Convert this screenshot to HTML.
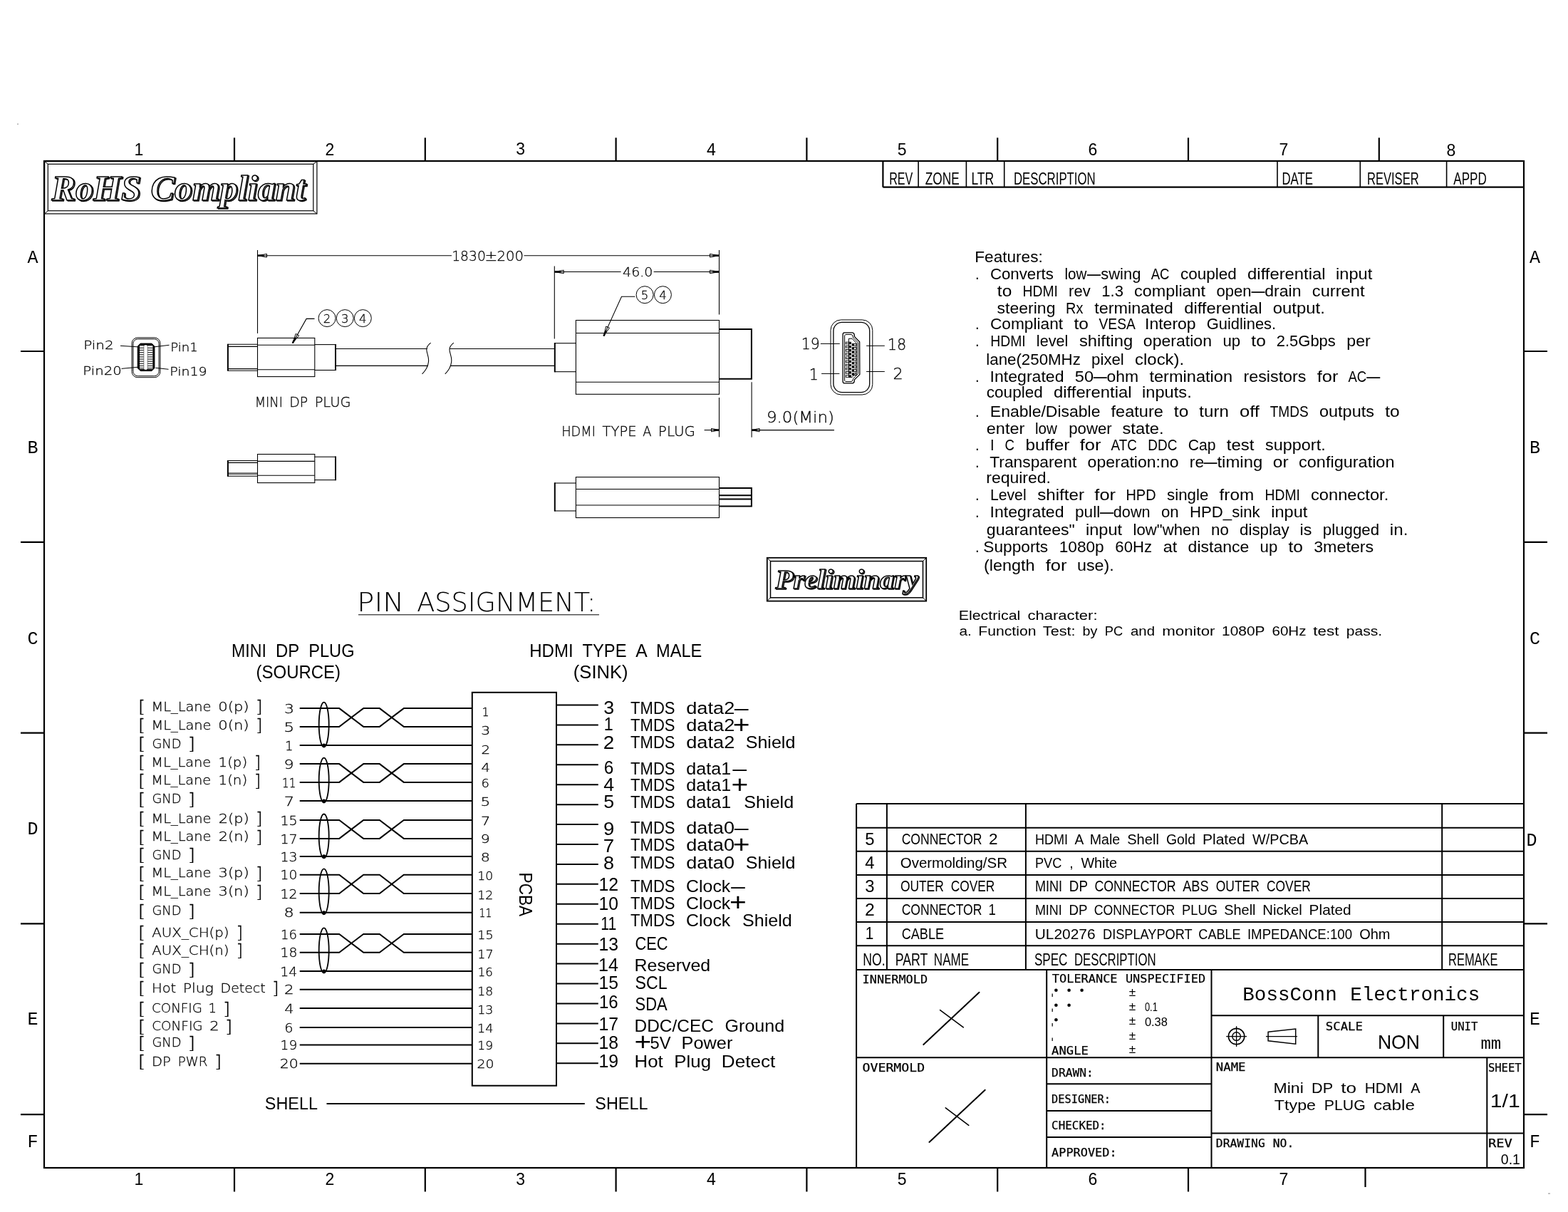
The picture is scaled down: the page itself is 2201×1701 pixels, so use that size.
<!DOCTYPE html>
<html lang="en">
<head>
<meta charset="utf-8">
<title>Mini DP to HDMI A Type PLUG cable drawing</title>
<style>
html,body{margin:0;padding:0;background:#fff;}
body{width:2201px;height:1701px;overflow:hidden;}
svg{display:block;filter:grayscale(1);}
text{white-space:pre;}
</style>
</head>
<body>
<svg width="2201" height="1701" viewBox="0 0 2201 1701">
<rect x="0" y="0" width="2201" height="1701" fill="#fff"/>
<rect x="62.00" y="226.00" width="2077.00" height="1413.00" rx="0" fill="none" stroke="#000" stroke-width="2.2"/>
<line x1="329.00" y1="193.30" x2="329.00" y2="226.00" stroke="#000" stroke-width="2.2" stroke-linecap="butt"/>
<line x1="596.80" y1="193.30" x2="596.80" y2="226.00" stroke="#000" stroke-width="2.2" stroke-linecap="butt"/>
<line x1="864.60" y1="193.30" x2="864.60" y2="226.00" stroke="#000" stroke-width="2.2" stroke-linecap="butt"/>
<line x1="1132.40" y1="193.30" x2="1132.40" y2="226.00" stroke="#000" stroke-width="2.2" stroke-linecap="butt"/>
<line x1="1400.20" y1="193.30" x2="1400.20" y2="226.00" stroke="#000" stroke-width="2.2" stroke-linecap="butt"/>
<line x1="1668.00" y1="193.30" x2="1668.00" y2="226.00" stroke="#000" stroke-width="2.2" stroke-linecap="butt"/>
<line x1="1935.80" y1="193.30" x2="1935.80" y2="226.00" stroke="#000" stroke-width="2.2" stroke-linecap="butt"/>
<line x1="329.00" y1="1639.00" x2="329.00" y2="1672.50" stroke="#000" stroke-width="2.2" stroke-linecap="butt"/>
<line x1="596.80" y1="1639.00" x2="596.80" y2="1672.50" stroke="#000" stroke-width="2.2" stroke-linecap="butt"/>
<line x1="864.60" y1="1639.00" x2="864.60" y2="1672.50" stroke="#000" stroke-width="2.2" stroke-linecap="butt"/>
<line x1="1132.40" y1="1639.00" x2="1132.40" y2="1672.50" stroke="#000" stroke-width="2.2" stroke-linecap="butt"/>
<line x1="1400.20" y1="1639.00" x2="1400.20" y2="1672.50" stroke="#000" stroke-width="2.2" stroke-linecap="butt"/>
<line x1="1668.00" y1="1639.00" x2="1668.00" y2="1672.50" stroke="#000" stroke-width="2.2" stroke-linecap="butt"/>
<line x1="1916.50" y1="1639.00" x2="1916.50" y2="1666.00" stroke="#000" stroke-width="2.2" stroke-linecap="butt"/>
<line x1="29.00" y1="493.00" x2="62.00" y2="493.00" stroke="#000" stroke-width="2.2" stroke-linecap="butt"/>
<line x1="2139.00" y1="493.00" x2="2172.00" y2="493.00" stroke="#000" stroke-width="2.2" stroke-linecap="butt"/>
<line x1="29.00" y1="760.80" x2="62.00" y2="760.80" stroke="#000" stroke-width="2.2" stroke-linecap="butt"/>
<line x1="2139.00" y1="760.80" x2="2172.00" y2="760.80" stroke="#000" stroke-width="2.2" stroke-linecap="butt"/>
<line x1="29.00" y1="1028.60" x2="62.00" y2="1028.60" stroke="#000" stroke-width="2.2" stroke-linecap="butt"/>
<line x1="2139.00" y1="1028.60" x2="2172.00" y2="1028.60" stroke="#000" stroke-width="2.2" stroke-linecap="butt"/>
<line x1="29.00" y1="1296.40" x2="62.00" y2="1296.40" stroke="#000" stroke-width="2.2" stroke-linecap="butt"/>
<line x1="2139.00" y1="1296.40" x2="2172.00" y2="1296.40" stroke="#000" stroke-width="2.2" stroke-linecap="butt"/>
<line x1="29.00" y1="1564.20" x2="62.00" y2="1564.20" stroke="#000" stroke-width="2.2" stroke-linecap="butt"/>
<line x1="2139.00" y1="1564.20" x2="2172.00" y2="1564.20" stroke="#000" stroke-width="2.2" stroke-linecap="butt"/>
<text x="195.00" y="218.30" font-size="23" font-family="'Liberation Sans', sans-serif" text-anchor="middle">1</text>
<text x="195.00" y="1663.00" font-size="23" font-family="'Liberation Sans', sans-serif" text-anchor="middle">1</text>
<text x="462.80" y="218.30" font-size="23" font-family="'Liberation Sans', sans-serif" text-anchor="middle">2</text>
<text x="462.80" y="1663.00" font-size="23" font-family="'Liberation Sans', sans-serif" text-anchor="middle">2</text>
<text x="730.60" y="216.80" font-size="23" font-family="'Liberation Sans', sans-serif" text-anchor="middle">3</text>
<text x="730.60" y="1663.00" font-size="23" font-family="'Liberation Sans', sans-serif" text-anchor="middle">3</text>
<text x="998.40" y="218.30" font-size="23" font-family="'Liberation Sans', sans-serif" text-anchor="middle">4</text>
<text x="998.40" y="1663.00" font-size="23" font-family="'Liberation Sans', sans-serif" text-anchor="middle">4</text>
<text x="1266.20" y="218.30" font-size="23" font-family="'Liberation Sans', sans-serif" text-anchor="middle">5</text>
<text x="1266.20" y="1663.00" font-size="23" font-family="'Liberation Sans', sans-serif" text-anchor="middle">5</text>
<text x="1534.00" y="218.30" font-size="23" font-family="'Liberation Sans', sans-serif" text-anchor="middle">6</text>
<text x="1534.00" y="1663.00" font-size="23" font-family="'Liberation Sans', sans-serif" text-anchor="middle">6</text>
<text x="1801.80" y="218.30" font-size="23" font-family="'Liberation Sans', sans-serif" text-anchor="middle">7</text>
<text x="1801.80" y="1663.00" font-size="23" font-family="'Liberation Sans', sans-serif" text-anchor="middle">7</text>
<text x="2037.00" y="218.60" font-size="23" font-family="'Liberation Sans', sans-serif" text-anchor="middle">8</text>
<text x="46.00" y="368.80" font-size="25" font-family="'Liberation Mono', monospace" text-anchor="middle">A</text>
<text x="2154.50" y="368.80" font-size="25" font-family="'Liberation Mono', monospace" text-anchor="middle">A</text>
<text x="46.00" y="636.00" font-size="25" font-family="'Liberation Mono', monospace" text-anchor="middle">B</text>
<text x="2154.50" y="636.00" font-size="25" font-family="'Liberation Mono', monospace" text-anchor="middle">B</text>
<text x="46.00" y="904.00" font-size="25" font-family="'Liberation Mono', monospace" text-anchor="middle">C</text>
<text x="2154.50" y="904.00" font-size="25" font-family="'Liberation Mono', monospace" text-anchor="middle">C</text>
<text x="46.00" y="1171.00" font-size="25" font-family="'Liberation Mono', monospace" text-anchor="middle">D</text>
<text x="2150.00" y="1187.20" font-size="25" font-family="'Liberation Mono', monospace" text-anchor="middle">D</text>
<text x="46.00" y="1438.20" font-size="25" font-family="'Liberation Mono', monospace" text-anchor="middle">E</text>
<text x="2154.50" y="1438.20" font-size="25" font-family="'Liberation Mono', monospace" text-anchor="middle">E</text>
<text x="46.00" y="1609.70" font-size="25" font-family="'Liberation Mono', monospace" text-anchor="middle">F</text>
<text x="2154.50" y="1609.70" font-size="25" font-family="'Liberation Mono', monospace" text-anchor="middle">F</text>
<line x1="1239.40" y1="262.70" x2="2139.00" y2="262.70" stroke="#000" stroke-width="2.2" stroke-linecap="butt"/>
<line x1="1239.40" y1="226.00" x2="1239.40" y2="262.70" stroke="#000" stroke-width="2.2" stroke-linecap="butt"/>
<line x1="1289.10" y1="226.00" x2="1289.10" y2="262.70" stroke="#000" stroke-width="1.6" stroke-linecap="butt"/>
<line x1="1356.40" y1="226.00" x2="1356.40" y2="262.70" stroke="#000" stroke-width="1.6" stroke-linecap="butt"/>
<line x1="1409.70" y1="226.00" x2="1409.70" y2="262.70" stroke="#000" stroke-width="1.6" stroke-linecap="butt"/>
<line x1="1793.00" y1="226.00" x2="1793.00" y2="262.70" stroke="#000" stroke-width="1.6" stroke-linecap="butt"/>
<line x1="1909.30" y1="226.00" x2="1909.30" y2="262.70" stroke="#000" stroke-width="1.6" stroke-linecap="butt"/>
<line x1="2030.60" y1="226.00" x2="2030.60" y2="262.70" stroke="#000" stroke-width="1.6" stroke-linecap="butt"/>
<text y="259.00" font-size="24.71" font-family="'Liberation Sans', sans-serif"><tspan x="1248.18" y="259.00" textLength="33.10" lengthAdjust="spacingAndGlyphs">REV</tspan></text>
<text y="259.00" font-size="24.71" font-family="'Liberation Sans', sans-serif"><tspan x="1298.75" y="259.00" textLength="47.89" lengthAdjust="spacingAndGlyphs">ZONE</tspan></text>
<text y="259.00" font-size="24.71" font-family="'Liberation Sans', sans-serif"><tspan x="1363.42" y="259.00" textLength="31.75" lengthAdjust="spacingAndGlyphs">LTR</tspan></text>
<text y="259.00" font-size="24.71" font-family="'Liberation Sans', sans-serif"><tspan x="1422.92" y="259.00" textLength="114.84" lengthAdjust="spacingAndGlyphs">DESCRIPTION</tspan></text>
<text y="259.00" font-size="24.71" font-family="'Liberation Sans', sans-serif"><tspan x="1799.46" y="259.00" textLength="43.65" lengthAdjust="spacingAndGlyphs">DATE</tspan></text>
<text y="259.00" font-size="24.71" font-family="'Liberation Sans', sans-serif"><tspan x="1918.94" y="259.00" textLength="72.72" lengthAdjust="spacingAndGlyphs">REVISER</tspan></text>
<text y="259.00" font-size="24.71" font-family="'Liberation Sans', sans-serif"><tspan x="2040.27" y="259.00" textLength="46.46" lengthAdjust="spacingAndGlyphs">APPD</tspan></text>
<rect x="24.00" y="173.60" width="2.00" height="1.00" rx="0" fill="#888" stroke="#000" stroke-width="0"/>
<rect x="2173.00" y="1674.60" width="3.00" height="1.00" rx="0" fill="#888" stroke="#000" stroke-width="0"/>
<line x1="319.90" y1="482.80" x2="319.90" y2="520.50" stroke="#000" stroke-width="2.0" stroke-linecap="butt"/>
<line x1="319.40" y1="483.30" x2="361.50" y2="483.30" stroke="#000" stroke-width="1.08" stroke-linecap="butt"/>
<line x1="319.40" y1="486.40" x2="361.50" y2="486.40" stroke="#000" stroke-width="1.08" stroke-linecap="butt"/>
<line x1="319.40" y1="517.60" x2="361.50" y2="517.60" stroke="#000" stroke-width="1.08" stroke-linecap="butt"/>
<line x1="319.40" y1="520.30" x2="361.50" y2="520.30" stroke="#000" stroke-width="1.08" stroke-linecap="butt"/>
<rect x="361.50" y="474.40" width="80.30" height="54.20" rx="0" fill="none" stroke="#000" stroke-width="1.08"/>
<line x1="361.50" y1="484.30" x2="441.80" y2="484.30" stroke="#000" stroke-width="1.08" stroke-linecap="butt"/>
<line x1="361.50" y1="518.80" x2="441.80" y2="518.80" stroke="#000" stroke-width="1.08" stroke-linecap="butt"/>
<line x1="441.80" y1="483.60" x2="471.40" y2="483.60" stroke="#000" stroke-width="1.08" stroke-linecap="butt"/>
<line x1="441.80" y1="519.50" x2="471.40" y2="519.50" stroke="#000" stroke-width="1.08" stroke-linecap="butt"/>
<line x1="471.00" y1="483.00" x2="471.00" y2="520.10" stroke="#000" stroke-width="2.0" stroke-linecap="butt"/>
<line x1="471.40" y1="489.50" x2="600.00" y2="489.50" stroke="#000" stroke-width="1.08" stroke-linecap="butt"/>
<line x1="471.40" y1="513.40" x2="600.60" y2="513.40" stroke="#000" stroke-width="1.08" stroke-linecap="butt"/>
<line x1="631.00" y1="489.50" x2="778.30" y2="489.50" stroke="#000" stroke-width="1.08" stroke-linecap="butt"/>
<line x1="632.60" y1="513.40" x2="778.30" y2="513.40" stroke="#000" stroke-width="1.08" stroke-linecap="butt"/>
<path d="M604.6,481.2 C600.5,484.5 598.6,487.5 598.8,491 C599.2,496 601.8,500 601.6,506 C601.4,513 597.5,520 592.6,524.8" fill="none" stroke="#000" stroke-width="1.08" stroke-linejoin="miter"/>
<path d="M636.8000000000001,481.2 C632.7,484.5 630.8000000000001,487.5 631.0,491 C631.4000000000001,496 634.0,500 633.8000000000001,506 C633.6,513 629.7,520 624.8000000000001,524.8" fill="none" stroke="#000" stroke-width="1.08" stroke-linejoin="miter"/>
<rect x="808.40" y="449.50" width="201.10" height="103.80" rx="0" fill="none" stroke="#000" stroke-width="1.08"/>
<line x1="808.40" y1="467.50" x2="1009.50" y2="467.50" stroke="#000" stroke-width="1.08" stroke-linecap="butt"/>
<line x1="808.40" y1="536.20" x2="1009.50" y2="536.20" stroke="#000" stroke-width="1.08" stroke-linecap="butt"/>
<line x1="778.30" y1="481.70" x2="808.40" y2="481.70" stroke="#000" stroke-width="1.08" stroke-linecap="butt"/>
<line x1="778.30" y1="521.70" x2="808.40" y2="521.70" stroke="#000" stroke-width="1.08" stroke-linecap="butt"/>
<line x1="778.80" y1="481.10" x2="778.80" y2="522.30" stroke="#000" stroke-width="2.0" stroke-linecap="butt"/>
<path d="M1009.50,461.90 L1054.90,461.90 L1054.90,531.80 L1009.50,531.80" fill="none" stroke="#000" stroke-width="2.0" stroke-linejoin="miter"/>
<line x1="361.50" y1="351.00" x2="361.50" y2="467.90" stroke="#000" stroke-width="1.08" stroke-linecap="butt"/>
<line x1="1009.50" y1="351.00" x2="1009.50" y2="441.50" stroke="#000" stroke-width="1.08" stroke-linecap="butt"/>
<line x1="361.50" y1="358.70" x2="634.00" y2="358.70" stroke="#000" stroke-width="1.08" stroke-linecap="butt"/>
<line x1="735.50" y1="358.70" x2="1009.50" y2="358.70" stroke="#000" stroke-width="1.08" stroke-linecap="butt"/>
<path d="M361.50,358.70 L374.50,356.40 L374.50,361.00 Z" fill="none" stroke="#000" stroke-width="1.0" stroke-linejoin="miter"/>
<line x1="361.50" y1="358.70" x2="370.34" y2="358.70" stroke="#000" stroke-width="2.6" stroke-linecap="butt"/>
<path d="M1009.50,358.70 L996.50,356.40 L996.50,361.00 Z" fill="none" stroke="#000" stroke-width="1.0" stroke-linejoin="miter"/>
<line x1="1009.50" y1="358.70" x2="1000.66" y2="358.70" stroke="#000" stroke-width="2.6" stroke-linecap="butt"/>
<line x1="778.30" y1="373.40" x2="778.30" y2="475.50" stroke="#000" stroke-width="1.08" stroke-linecap="butt"/>
<line x1="778.30" y1="381.50" x2="871.60" y2="381.50" stroke="#000" stroke-width="1.08" stroke-linecap="butt"/>
<line x1="917.60" y1="381.50" x2="1009.50" y2="381.50" stroke="#000" stroke-width="1.08" stroke-linecap="butt"/>
<path d="M778.30,381.50 L791.30,379.20 L791.30,383.80 Z" fill="none" stroke="#000" stroke-width="1.0" stroke-linejoin="miter"/>
<line x1="778.30" y1="381.50" x2="787.14" y2="381.50" stroke="#000" stroke-width="2.6" stroke-linecap="butt"/>
<path d="M1009.50,381.50 L996.50,379.20 L996.50,383.80 Z" fill="none" stroke="#000" stroke-width="1.0" stroke-linejoin="miter"/>
<line x1="1009.50" y1="381.50" x2="1000.66" y2="381.50" stroke="#000" stroke-width="2.6" stroke-linecap="butt"/>
<line x1="1009.50" y1="558.00" x2="1009.50" y2="613.40" stroke="#000" stroke-width="1.08" stroke-linecap="butt"/>
<line x1="1055.10" y1="536.20" x2="1055.10" y2="613.80" stroke="#000" stroke-width="1.08" stroke-linecap="butt"/>
<line x1="988.60" y1="603.60" x2="1009.50" y2="603.60" stroke="#000" stroke-width="1.08" stroke-linecap="butt"/>
<path d="M1009.50,603.60 L998.50,601.30 L998.50,605.90 Z" fill="none" stroke="#000" stroke-width="1.0" stroke-linejoin="miter"/>
<line x1="1009.50" y1="603.60" x2="1002.02" y2="603.60" stroke="#000" stroke-width="2.6" stroke-linecap="butt"/>
<line x1="1055.10" y1="603.60" x2="1171.00" y2="603.60" stroke="#000" stroke-width="1.08" stroke-linecap="butt"/>
<path d="M1055.10,603.60 L1066.10,601.30 L1066.10,605.90 Z" fill="none" stroke="#000" stroke-width="1.0" stroke-linejoin="miter"/>
<line x1="1055.10" y1="603.60" x2="1062.58" y2="603.60" stroke="#000" stroke-width="2.6" stroke-linecap="butt"/>
<path d="M410.80,481.40 L430.10,447.40 L441.50,447.40" fill="none" stroke="#000" stroke-width="1.08" stroke-linejoin="miter"/>
<path d="M410.80,481.40 L419.73,470.94 L415.20,468.38 Z" fill="none" stroke="#000" stroke-width="1.0" stroke-linejoin="miter"/>
<line x1="410.80" y1="481.40" x2="414.80" y2="474.36" stroke="#000" stroke-width="2.4" stroke-linecap="butt"/>
<circle cx="459.10" cy="446.60" r="12.00" fill="none" stroke="#000" stroke-width="1.0"/>
<text x="459.10" y="452.60" font-size="16.5" font-family="'DejaVu Sans Light', 'DejaVu Sans', sans-serif" text-anchor="middle" stroke="#000" stroke-width="0.3">2</text>
<circle cx="484.20" cy="446.60" r="12.00" fill="none" stroke="#000" stroke-width="1.0"/>
<text x="484.20" y="452.60" font-size="16.5" font-family="'DejaVu Sans Light', 'DejaVu Sans', sans-serif" text-anchor="middle" stroke="#000" stroke-width="0.3">3</text>
<circle cx="509.30" cy="446.60" r="12.00" fill="none" stroke="#000" stroke-width="1.0"/>
<text x="509.30" y="452.60" font-size="16.5" font-family="'DejaVu Sans Light', 'DejaVu Sans', sans-serif" text-anchor="middle" stroke="#000" stroke-width="0.3">4</text>
<path d="M847.50,471.40 L872.50,416.20 L891.40,416.20" fill="none" stroke="#000" stroke-width="1.08" stroke-linejoin="miter"/>
<path d="M847.50,471.40 L855.44,460.18 L850.70,458.03 Z" fill="none" stroke="#000" stroke-width="1.0" stroke-linejoin="miter"/>
<line x1="847.50" y1="471.40" x2="850.84" y2="464.02" stroke="#000" stroke-width="2.4" stroke-linecap="butt"/>
<circle cx="905.10" cy="413.70" r="12.00" fill="none" stroke="#000" stroke-width="1.0"/>
<text x="905.10" y="419.70" font-size="16.5" font-family="'DejaVu Sans Light', 'DejaVu Sans', sans-serif" text-anchor="middle" stroke="#000" stroke-width="0.3">5</text>
<circle cx="930.40" cy="413.70" r="12.00" fill="none" stroke="#000" stroke-width="1.0"/>
<text x="930.40" y="419.70" font-size="16.5" font-family="'DejaVu Sans Light', 'DejaVu Sans', sans-serif" text-anchor="middle" stroke="#000" stroke-width="0.3">4</text>
<line x1="319.90" y1="646.00" x2="319.90" y2="668.80" stroke="#000" stroke-width="2.0" stroke-linecap="butt"/>
<line x1="319.40" y1="646.50" x2="361.50" y2="646.50" stroke="#000" stroke-width="1.08" stroke-linecap="butt"/>
<line x1="319.40" y1="649.40" x2="361.50" y2="649.40" stroke="#000" stroke-width="1.08" stroke-linecap="butt"/>
<line x1="319.40" y1="664.00" x2="361.50" y2="664.00" stroke="#000" stroke-width="1.08" stroke-linecap="butt"/>
<line x1="319.40" y1="668.30" x2="361.50" y2="668.30" stroke="#000" stroke-width="1.08" stroke-linecap="butt"/>
<line x1="319.40" y1="665.60" x2="361.50" y2="665.60" stroke="#000" stroke-width="0.7" stroke-linecap="butt"/>
<rect x="361.50" y="637.50" width="80.30" height="40.10" rx="0" fill="none" stroke="#000" stroke-width="1.08"/>
<line x1="361.50" y1="647.40" x2="441.80" y2="647.40" stroke="#000" stroke-width="1.08" stroke-linecap="butt"/>
<line x1="361.50" y1="667.30" x2="441.80" y2="667.30" stroke="#000" stroke-width="1.08" stroke-linecap="butt"/>
<line x1="441.80" y1="641.20" x2="471.40" y2="641.20" stroke="#000" stroke-width="1.08" stroke-linecap="butt"/>
<line x1="441.80" y1="673.60" x2="471.40" y2="673.60" stroke="#000" stroke-width="1.08" stroke-linecap="butt"/>
<line x1="471.00" y1="640.60" x2="471.00" y2="674.20" stroke="#000" stroke-width="2.0" stroke-linecap="butt"/>
<rect x="808.40" y="669.60" width="201.10" height="57.00" rx="0" fill="none" stroke="#000" stroke-width="1.08"/>
<line x1="808.40" y1="686.50" x2="1009.50" y2="686.50" stroke="#000" stroke-width="1.08" stroke-linecap="butt"/>
<line x1="808.40" y1="709.00" x2="1009.50" y2="709.00" stroke="#000" stroke-width="1.08" stroke-linecap="butt"/>
<line x1="778.30" y1="678.00" x2="808.40" y2="678.00" stroke="#000" stroke-width="1.08" stroke-linecap="butt"/>
<line x1="778.30" y1="717.00" x2="808.40" y2="717.00" stroke="#000" stroke-width="1.08" stroke-linecap="butt"/>
<line x1="778.80" y1="677.40" x2="778.80" y2="717.60" stroke="#000" stroke-width="2.0" stroke-linecap="butt"/>
<path d="M1009.50,685.00 L1054.90,685.00 L1054.90,710.40 L1009.50,710.40" fill="none" stroke="#000" stroke-width="2.0" stroke-linejoin="miter"/>
<line x1="1009.50" y1="695.20" x2="1055.00" y2="695.20" stroke="#000" stroke-width="2.0" stroke-linecap="butt"/>
<line x1="1009.50" y1="700.40" x2="1055.00" y2="700.40" stroke="#000" stroke-width="2.0" stroke-linecap="butt"/>
<rect x="185.10" y="473.90" width="39.80" height="55.80" rx="8" fill="none" stroke="#000" stroke-width="1.0"/>
<rect x="186.90" y="475.80" width="36.20" height="51.90" rx="6.5" fill="none" stroke="#000" stroke-width="1.0"/>
<path d="M197.2,482.1 L213.0,482.1 L216.9,486 L216.9,516.6 L213.0,520.6 L197.2,520.6 L193.2,516.6 L193.2,486 Z" fill="#000" stroke="#000" stroke-width="1.0" stroke-linejoin="miter"/>
<rect x="196.00" y="485.20" width="18.30" height="32.80" rx="0" fill="#fff" stroke="#000" stroke-width="0"/>
<rect x="202.70" y="484.30" width="3.60" height="34.50" rx="0" fill="#fff" stroke="#000" stroke-width="0"/>
<line x1="196.00" y1="488.30" x2="202.00" y2="488.30" stroke="#222" stroke-width="1.1" stroke-linecap="butt"/>
<line x1="207.00" y1="488.30" x2="214.30" y2="488.30" stroke="#222" stroke-width="1.1" stroke-linecap="butt"/>
<line x1="196.00" y1="491.45" x2="202.00" y2="491.45" stroke="#222" stroke-width="1.1" stroke-linecap="butt"/>
<line x1="207.00" y1="491.45" x2="214.30" y2="491.45" stroke="#222" stroke-width="1.1" stroke-linecap="butt"/>
<line x1="196.00" y1="494.60" x2="202.00" y2="494.60" stroke="#222" stroke-width="1.1" stroke-linecap="butt"/>
<line x1="207.00" y1="494.60" x2="214.30" y2="494.60" stroke="#222" stroke-width="1.1" stroke-linecap="butt"/>
<line x1="196.00" y1="497.75" x2="202.00" y2="497.75" stroke="#222" stroke-width="1.1" stroke-linecap="butt"/>
<line x1="207.00" y1="497.75" x2="214.30" y2="497.75" stroke="#222" stroke-width="1.1" stroke-linecap="butt"/>
<line x1="196.00" y1="500.90" x2="202.00" y2="500.90" stroke="#222" stroke-width="1.1" stroke-linecap="butt"/>
<line x1="207.00" y1="500.90" x2="214.30" y2="500.90" stroke="#222" stroke-width="1.1" stroke-linecap="butt"/>
<line x1="196.00" y1="504.05" x2="202.00" y2="504.05" stroke="#222" stroke-width="1.1" stroke-linecap="butt"/>
<line x1="207.00" y1="504.05" x2="214.30" y2="504.05" stroke="#222" stroke-width="1.1" stroke-linecap="butt"/>
<line x1="196.00" y1="507.20" x2="202.00" y2="507.20" stroke="#222" stroke-width="1.1" stroke-linecap="butt"/>
<line x1="207.00" y1="507.20" x2="214.30" y2="507.20" stroke="#222" stroke-width="1.1" stroke-linecap="butt"/>
<line x1="196.00" y1="510.35" x2="202.00" y2="510.35" stroke="#222" stroke-width="1.1" stroke-linecap="butt"/>
<line x1="207.00" y1="510.35" x2="214.30" y2="510.35" stroke="#222" stroke-width="1.1" stroke-linecap="butt"/>
<line x1="196.00" y1="513.50" x2="202.00" y2="513.50" stroke="#222" stroke-width="1.1" stroke-linecap="butt"/>
<line x1="207.00" y1="513.50" x2="214.30" y2="513.50" stroke="#222" stroke-width="1.1" stroke-linecap="butt"/>
<line x1="196.00" y1="516.65" x2="202.00" y2="516.65" stroke="#222" stroke-width="1.1" stroke-linecap="butt"/>
<line x1="207.00" y1="516.65" x2="214.30" y2="516.65" stroke="#222" stroke-width="1.1" stroke-linecap="butt"/>
<line x1="201.80" y1="485.20" x2="201.80" y2="518.00" stroke="#666" stroke-width="0.8" stroke-linecap="butt"/>
<line x1="207.20" y1="485.20" x2="207.20" y2="518.00" stroke="#666" stroke-width="0.8" stroke-linecap="butt"/>
<line x1="169.00" y1="485.30" x2="193.20" y2="486.80" stroke="#000" stroke-width="1.0" stroke-linecap="butt"/>
<line x1="216.90" y1="486.80" x2="237.50" y2="484.30" stroke="#000" stroke-width="1.0" stroke-linecap="butt"/>
<line x1="170.50" y1="517.40" x2="193.20" y2="515.30" stroke="#000" stroke-width="1.0" stroke-linecap="butt"/>
<line x1="218.40" y1="516.30" x2="236.50" y2="518.30" stroke="#000" stroke-width="1.0" stroke-linecap="butt"/>
<rect x="1166.00" y="448.90" width="58.80" height="105.10" rx="14.5" fill="none" stroke="#000" stroke-width="1.0"/>
<rect x="1169.90" y="452.40" width="50.80" height="98.20" rx="12" fill="none" stroke="#000" stroke-width="1.3"/>
<path d="M1185.2,466.9 L1196.6,466.9 Q1199.0,467.2 1199.2,470.2 L1199.6,472.6 L1206.6,479.8 L1206.8,525.6 L1199.6,532.6 L1199.2,535.0 Q1199.0,537.6 1196.6,537.9 L1185.2,537.9 Q1183.1,537.6 1183.1,535.2 L1183.1,469.6 Q1183.1,467.2 1185.2,466.9 Z" fill="none" stroke="#000" stroke-width="1.3" stroke-linejoin="miter"/>
<path d="M1187.0,469.4 L1195.0,469.4 L1197.0,471.0 L1197.6,474.0 L1204.4,480.8 L1204.4,524.6 L1197.6,531.4 L1197.0,534.2 L1195.0,535.6 L1187.0,535.6 L1185.6,534.2 L1185.6,471.0 Z" fill="none" stroke="#000" stroke-width="1.0" stroke-linejoin="miter"/>
<path d="M1191.4,475.2 L1196.0,475.2 L1202.0,481.4 L1202.0,523.6 L1196.0,529.4 L1191.4,529.4 Z" fill="none" stroke="#000" stroke-width="1.0" stroke-linejoin="miter"/>
<rect x="1187.30" y="480.20" width="7.10" height="2.60" rx="0" fill="none" stroke="#000" stroke-width="0.9"/>
<rect x="1192.20" y="480.50" width="2.20" height="2.00" rx="0" fill="#000" stroke="#000" stroke-width="0"/>
<rect x="1187.30" y="485.37" width="7.10" height="2.60" rx="0" fill="none" stroke="#000" stroke-width="0.9"/>
<rect x="1192.20" y="485.67" width="2.20" height="2.00" rx="0" fill="#000" stroke="#000" stroke-width="0"/>
<rect x="1187.30" y="490.54" width="7.10" height="2.60" rx="0" fill="none" stroke="#000" stroke-width="0.9"/>
<rect x="1192.20" y="490.84" width="2.20" height="2.00" rx="0" fill="#000" stroke="#000" stroke-width="0"/>
<rect x="1187.30" y="495.71" width="7.10" height="2.60" rx="0" fill="none" stroke="#000" stroke-width="0.9"/>
<rect x="1192.20" y="496.01" width="2.20" height="2.00" rx="0" fill="#000" stroke="#000" stroke-width="0"/>
<rect x="1187.30" y="500.88" width="7.10" height="2.60" rx="0" fill="none" stroke="#000" stroke-width="0.9"/>
<rect x="1192.20" y="501.18" width="2.20" height="2.00" rx="0" fill="#000" stroke="#000" stroke-width="0"/>
<rect x="1187.30" y="506.05" width="7.10" height="2.60" rx="0" fill="none" stroke="#000" stroke-width="0.9"/>
<rect x="1192.20" y="506.35" width="2.20" height="2.00" rx="0" fill="#000" stroke="#000" stroke-width="0"/>
<rect x="1187.30" y="511.22" width="7.10" height="2.60" rx="0" fill="none" stroke="#000" stroke-width="0.9"/>
<rect x="1192.20" y="511.52" width="2.20" height="2.00" rx="0" fill="#000" stroke="#000" stroke-width="0"/>
<rect x="1187.30" y="516.39" width="7.10" height="2.60" rx="0" fill="none" stroke="#000" stroke-width="0.9"/>
<rect x="1192.20" y="516.69" width="2.20" height="2.00" rx="0" fill="#000" stroke="#000" stroke-width="0"/>
<rect x="1187.30" y="521.56" width="7.10" height="2.60" rx="0" fill="none" stroke="#000" stroke-width="0.9"/>
<rect x="1192.20" y="521.86" width="2.20" height="2.00" rx="0" fill="#000" stroke="#000" stroke-width="0"/>
<rect x="1187.30" y="526.73" width="7.10" height="2.60" rx="0" fill="none" stroke="#000" stroke-width="0.9"/>
<rect x="1192.20" y="527.03" width="2.20" height="2.00" rx="0" fill="#000" stroke="#000" stroke-width="0"/>
<rect x="1196.20" y="482.40" width="6.10" height="2.80" rx="0" fill="none" stroke="#000" stroke-width="0.9"/>
<rect x="1196.20" y="482.60" width="2.80" height="2.40" rx="0" fill="#000" stroke="#000" stroke-width="0"/>
<rect x="1196.20" y="487.57" width="6.10" height="2.80" rx="0" fill="none" stroke="#000" stroke-width="0.9"/>
<rect x="1196.20" y="487.77" width="2.80" height="2.40" rx="0" fill="#000" stroke="#000" stroke-width="0"/>
<rect x="1196.20" y="492.74" width="6.10" height="2.80" rx="0" fill="none" stroke="#000" stroke-width="0.9"/>
<rect x="1196.20" y="492.94" width="2.80" height="2.40" rx="0" fill="#000" stroke="#000" stroke-width="0"/>
<rect x="1196.20" y="497.91" width="6.10" height="2.80" rx="0" fill="none" stroke="#000" stroke-width="0.9"/>
<rect x="1196.20" y="498.11" width="2.80" height="2.40" rx="0" fill="#000" stroke="#000" stroke-width="0"/>
<rect x="1196.20" y="503.08" width="6.10" height="2.80" rx="0" fill="none" stroke="#000" stroke-width="0.9"/>
<rect x="1196.20" y="503.28" width="2.80" height="2.40" rx="0" fill="#000" stroke="#000" stroke-width="0"/>
<rect x="1196.20" y="508.25" width="6.10" height="2.80" rx="0" fill="none" stroke="#000" stroke-width="0.9"/>
<rect x="1196.20" y="508.45" width="2.80" height="2.40" rx="0" fill="#000" stroke="#000" stroke-width="0"/>
<rect x="1196.20" y="513.42" width="6.10" height="2.80" rx="0" fill="none" stroke="#000" stroke-width="0.9"/>
<rect x="1196.20" y="513.62" width="2.80" height="2.40" rx="0" fill="#000" stroke="#000" stroke-width="0"/>
<rect x="1196.20" y="518.59" width="6.10" height="2.80" rx="0" fill="none" stroke="#000" stroke-width="0.9"/>
<rect x="1196.20" y="518.79" width="2.80" height="2.40" rx="0" fill="#000" stroke="#000" stroke-width="0"/>
<rect x="1196.20" y="523.76" width="6.10" height="2.80" rx="0" fill="none" stroke="#000" stroke-width="0.9"/>
<rect x="1196.20" y="523.96" width="2.80" height="2.40" rx="0" fill="#000" stroke="#000" stroke-width="0"/>
<line x1="1151.90" y1="482.40" x2="1178.80" y2="482.40" stroke="#000" stroke-width="1.0" stroke-linecap="butt"/>
<line x1="1216.10" y1="485.30" x2="1241.80" y2="485.30" stroke="#000" stroke-width="1.0" stroke-linecap="butt"/>
<line x1="1153.10" y1="524.40" x2="1178.40" y2="524.40" stroke="#000" stroke-width="1.0" stroke-linecap="butt"/>
<line x1="1216.10" y1="521.50" x2="1241.80" y2="521.50" stroke="#000" stroke-width="1.0" stroke-linecap="butt"/>
<rect x="62.60" y="226.60" width="382.30" height="73.40" rx="0" fill="none" stroke="#000" stroke-width="1.2"/>
<rect x="67.30" y="230.30" width="372.50" height="65.50" rx="0" fill="none" stroke="#000" stroke-width="1.2"/>
<line x1="62.60" y1="226.60" x2="67.30" y2="230.30" stroke="#000" stroke-width="1.0" stroke-linecap="butt"/>
<line x1="444.90" y1="226.60" x2="439.80" y2="230.30" stroke="#000" stroke-width="1.0" stroke-linecap="butt"/>
<line x1="62.60" y1="300.00" x2="67.30" y2="295.80" stroke="#000" stroke-width="1.0" stroke-linecap="butt"/>
<line x1="444.90" y1="300.00" x2="439.80" y2="295.80" stroke="#000" stroke-width="1.0" stroke-linecap="butt"/>
<rect x="1076.80" y="782.80" width="223.40" height="60.80" rx="0" fill="none" stroke="#000" stroke-width="1.8"/>
<rect x="1081.50" y="787.60" width="214.00" height="51.20" rx="0" fill="none" stroke="#000" stroke-width="1.5"/>
<line x1="1076.80" y1="782.80" x2="1081.50" y2="787.60" stroke="#000" stroke-width="1.0" stroke-linecap="butt"/>
<line x1="1300.20" y1="782.80" x2="1295.50" y2="787.60" stroke="#000" stroke-width="1.0" stroke-linecap="butt"/>
<line x1="1076.80" y1="843.60" x2="1081.50" y2="838.80" stroke="#000" stroke-width="1.0" stroke-linecap="butt"/>
<line x1="1300.20" y1="843.60" x2="1295.50" y2="838.80" stroke="#000" stroke-width="1.0" stroke-linecap="butt"/>
<line x1="503.00" y1="862.80" x2="841.00" y2="862.80" stroke="#000" stroke-width="1.0" stroke-linecap="butt"/>
<rect x="662.80" y="971.80" width="118.20" height="551.90" rx="0" fill="none" stroke="#000" stroke-width="2.0"/>
<path d="M420.70,994.10 L476.20,994.10 L510.20,1019.90 L532.80,1019.90 L566.80,994.10 L662.80,994.10" fill="none" stroke="#000" stroke-width="2.0" stroke-linejoin="miter"/>
<path d="M420.70,1019.90 L476.20,1019.90 L510.20,994.10 L532.80,994.10 L566.80,1019.90 L662.80,1019.90" fill="none" stroke="#000" stroke-width="2.0" stroke-linejoin="miter"/>
<line x1="420.70" y1="1046.00" x2="662.80" y2="1046.00" stroke="#000" stroke-width="2.0" stroke-linecap="butt"/>
<ellipse cx="454.70" cy="1017.05" rx="7.00" ry="31.45" fill="none" stroke="#000" stroke-width="1.8"/>
<circle cx="454.70" cy="1046.00" r="2.60" fill="#000" stroke="#000" stroke-width="0"/>
<path d="M420.70,1072.10 L476.20,1072.10 L510.20,1097.90 L532.80,1097.90 L566.80,1072.10 L662.80,1072.10" fill="none" stroke="#000" stroke-width="2.0" stroke-linejoin="miter"/>
<path d="M420.70,1097.90 L476.20,1097.90 L510.20,1072.10 L532.80,1072.10 L566.80,1097.90 L662.80,1097.90" fill="none" stroke="#000" stroke-width="2.0" stroke-linejoin="miter"/>
<line x1="420.70" y1="1124.00" x2="662.80" y2="1124.00" stroke="#000" stroke-width="2.0" stroke-linecap="butt"/>
<ellipse cx="454.70" cy="1095.05" rx="7.00" ry="31.45" fill="none" stroke="#000" stroke-width="1.8"/>
<circle cx="454.70" cy="1124.00" r="2.60" fill="#000" stroke="#000" stroke-width="0"/>
<path d="M420.70,1151.00 L476.20,1151.00 L510.20,1176.90 L532.80,1176.90 L566.80,1151.00 L662.80,1151.00" fill="none" stroke="#000" stroke-width="2.0" stroke-linejoin="miter"/>
<path d="M420.70,1176.90 L476.20,1176.90 L510.20,1151.00 L532.80,1151.00 L566.80,1176.90 L662.80,1176.90" fill="none" stroke="#000" stroke-width="2.0" stroke-linejoin="miter"/>
<line x1="420.70" y1="1201.90" x2="662.80" y2="1201.90" stroke="#000" stroke-width="2.0" stroke-linecap="butt"/>
<ellipse cx="454.70" cy="1173.45" rx="7.00" ry="30.95" fill="none" stroke="#000" stroke-width="1.8"/>
<circle cx="454.70" cy="1201.90" r="2.60" fill="#000" stroke="#000" stroke-width="0"/>
<path d="M420.70,1227.80 L476.20,1227.80 L510.20,1254.00 L532.80,1254.00 L566.80,1227.80 L662.80,1227.80" fill="none" stroke="#000" stroke-width="2.0" stroke-linejoin="miter"/>
<path d="M420.70,1254.00 L476.20,1254.00 L510.20,1227.80 L532.80,1227.80 L566.80,1254.00 L662.80,1254.00" fill="none" stroke="#000" stroke-width="2.0" stroke-linejoin="miter"/>
<line x1="420.70" y1="1280.80" x2="662.80" y2="1280.80" stroke="#000" stroke-width="2.0" stroke-linecap="butt"/>
<ellipse cx="454.70" cy="1251.30" rx="7.00" ry="32.00" fill="none" stroke="#000" stroke-width="1.8"/>
<circle cx="454.70" cy="1280.80" r="2.60" fill="#000" stroke="#000" stroke-width="0"/>
<path d="M420.70,1310.90 L476.20,1310.90 L510.20,1336.70 L532.80,1336.70 L566.80,1310.90 L662.80,1310.90" fill="none" stroke="#000" stroke-width="2.0" stroke-linejoin="miter"/>
<path d="M420.70,1336.70 L476.20,1336.70 L510.20,1310.90 L532.80,1310.90 L566.80,1336.70 L662.80,1336.70" fill="none" stroke="#000" stroke-width="2.0" stroke-linejoin="miter"/>
<line x1="420.70" y1="1363.10" x2="662.80" y2="1363.10" stroke="#000" stroke-width="2.0" stroke-linecap="butt"/>
<ellipse cx="454.70" cy="1334.00" rx="7.00" ry="31.60" fill="none" stroke="#000" stroke-width="1.8"/>
<circle cx="454.70" cy="1363.10" r="2.60" fill="#000" stroke="#000" stroke-width="0"/>
<line x1="420.70" y1="1388.80" x2="662.80" y2="1388.80" stroke="#000" stroke-width="2.0" stroke-linecap="butt"/>
<line x1="420.70" y1="1415.00" x2="662.80" y2="1415.00" stroke="#000" stroke-width="2.0" stroke-linecap="butt"/>
<line x1="420.70" y1="1441.90" x2="662.80" y2="1441.90" stroke="#000" stroke-width="2.0" stroke-linecap="butt"/>
<line x1="420.70" y1="1466.60" x2="662.80" y2="1466.60" stroke="#000" stroke-width="2.0" stroke-linecap="butt"/>
<line x1="420.70" y1="1492.80" x2="662.80" y2="1492.80" stroke="#000" stroke-width="2.0" stroke-linecap="butt"/>
<text y="1000.70" font-size="18.11" font-family="'DejaVu Sans Light', 'DejaVu Sans', sans-serif" stroke="#000" stroke-width="0.3"><tspan x="398.94" y="1000.70" textLength="13.97" lengthAdjust="spacingAndGlyphs">3</tspan></text>
<text y="1005.40" font-size="15.91" font-family="'DejaVu Sans Light', 'DejaVu Sans', sans-serif" stroke="#000" stroke-width="0.3"><tspan x="676.39" y="1005.40" textLength="10.12" lengthAdjust="spacingAndGlyphs">1</tspan></text>
<text y="997.80" font-size="17.11" font-family="'DejaVu Sans Light', 'DejaVu Sans', sans-serif" stroke="#000" stroke-width="0.3"><tspan x="194.09" y="1000.02" font-size="22.24" textLength="10.01" lengthAdjust="spacingAndGlyphs">[</tspan> <tspan x="212.43" y="997.80" textLength="84.11" lengthAdjust="spacingAndGlyphs">ML_Lane</tspan> <tspan x="306.25" y="997.80" textLength="43.37" lengthAdjust="spacingAndGlyphs">0(p)</tspan> <tspan x="358.82" y="1000.02" font-size="22.24" textLength="10.01" lengthAdjust="spacingAndGlyphs">]</tspan></text>
<text y="1026.50" font-size="18.11" font-family="'DejaVu Sans Light', 'DejaVu Sans', sans-serif" stroke="#000" stroke-width="0.3"><tspan x="398.28" y="1026.50" textLength="14.92" lengthAdjust="spacingAndGlyphs">5</tspan></text>
<text y="1031.30" font-size="15.91" font-family="'DejaVu Sans Light', 'DejaVu Sans', sans-serif" stroke="#000" stroke-width="0.3"><tspan x="675.22" y="1031.30" textLength="12.95" lengthAdjust="spacingAndGlyphs">3</tspan></text>
<text y="1023.60" font-size="17.11" font-family="'DejaVu Sans Light', 'DejaVu Sans', sans-serif" stroke="#000" stroke-width="0.3"><tspan x="194.09" y="1025.82" font-size="22.24" textLength="10.01" lengthAdjust="spacingAndGlyphs">[</tspan> <tspan x="212.43" y="1023.60" textLength="84.11" lengthAdjust="spacingAndGlyphs">ML_Lane</tspan> <tspan x="306.25" y="1023.60" textLength="43.37" lengthAdjust="spacingAndGlyphs">0(n)</tspan> <tspan x="358.82" y="1025.82" font-size="22.24" textLength="10.01" lengthAdjust="spacingAndGlyphs">]</tspan></text>
<text y="1052.60" font-size="18.11" font-family="'DejaVu Sans Light', 'DejaVu Sans', sans-serif" stroke="#000" stroke-width="0.3"><tspan x="399.90" y="1052.60" textLength="11.52" lengthAdjust="spacingAndGlyphs">1</tspan></text>
<text y="1057.50" font-size="15.91" font-family="'DejaVu Sans Light', 'DejaVu Sans', sans-serif" stroke="#000" stroke-width="0.3"><tspan x="675.40" y="1057.50" textLength="12.62" lengthAdjust="spacingAndGlyphs">2</tspan></text>
<text y="1049.60" font-size="18.11" font-family="'DejaVu Sans Light', 'DejaVu Sans', sans-serif" stroke="#000" stroke-width="0.3"><tspan x="193.80" y="1051.95" font-size="23.54" textLength="10.60" lengthAdjust="spacingAndGlyphs">[</tspan> <tspan x="213.46" y="1049.60" textLength="41.07" lengthAdjust="spacingAndGlyphs">GND</tspan> <tspan x="263.52" y="1051.95" font-size="23.54" textLength="10.60" lengthAdjust="spacingAndGlyphs">]</tspan></text>
<text y="1078.70" font-size="18.11" font-family="'DejaVu Sans Light', 'DejaVu Sans', sans-serif" stroke="#000" stroke-width="0.3"><tspan x="398.46" y="1078.70" textLength="14.06" lengthAdjust="spacingAndGlyphs">9</tspan></text>
<text y="1082.70" font-size="15.91" font-family="'DejaVu Sans Light', 'DejaVu Sans', sans-serif" stroke="#000" stroke-width="0.3"><tspan x="675.52" y="1082.70" textLength="12.36" lengthAdjust="spacingAndGlyphs">4</tspan></text>
<text y="1075.60" font-size="17.11" font-family="'DejaVu Sans Light', 'DejaVu Sans', sans-serif" stroke="#000" stroke-width="0.3"><tspan x="194.08" y="1077.82" font-size="22.24" textLength="10.01" lengthAdjust="spacingAndGlyphs">[</tspan> <tspan x="212.39" y="1075.60" textLength="83.87" lengthAdjust="spacingAndGlyphs">ML_Lane</tspan> <tspan x="306.59" y="1075.60" textLength="40.55" lengthAdjust="spacingAndGlyphs">1(p)</tspan> <tspan x="356.43" y="1077.82" font-size="22.24" textLength="10.01" lengthAdjust="spacingAndGlyphs">]</tspan></text>
<text y="1104.50" font-size="18.11" font-family="'DejaVu Sans Light', 'DejaVu Sans', sans-serif" stroke="#000" stroke-width="0.3"><tspan x="396.06" y="1104.50" textLength="19.18" lengthAdjust="spacingAndGlyphs">11</tspan></text>
<text y="1105.40" font-size="15.91" font-family="'DejaVu Sans Light', 'DejaVu Sans', sans-serif" stroke="#000" stroke-width="0.3"><tspan x="675.63" y="1105.40" textLength="11.37" lengthAdjust="spacingAndGlyphs">6</tspan></text>
<text y="1101.40" font-size="17.11" font-family="'DejaVu Sans Light', 'DejaVu Sans', sans-serif" stroke="#000" stroke-width="0.3"><tspan x="194.08" y="1103.62" font-size="22.24" textLength="10.01" lengthAdjust="spacingAndGlyphs">[</tspan> <tspan x="212.39" y="1101.40" textLength="83.87" lengthAdjust="spacingAndGlyphs">ML_Lane</tspan> <tspan x="306.59" y="1101.40" textLength="40.55" lengthAdjust="spacingAndGlyphs">1(n)</tspan> <tspan x="356.43" y="1103.62" font-size="22.24" textLength="10.01" lengthAdjust="spacingAndGlyphs">]</tspan></text>
<text y="1130.60" font-size="18.11" font-family="'DejaVu Sans Light', 'DejaVu Sans', sans-serif" stroke="#000" stroke-width="0.3"><tspan x="398.76" y="1130.60" textLength="14.34" lengthAdjust="spacingAndGlyphs">7</tspan></text>
<text y="1131.30" font-size="15.91" font-family="'DejaVu Sans Light', 'DejaVu Sans', sans-serif" stroke="#000" stroke-width="0.3"><tspan x="674.62" y="1131.30" textLength="13.83" lengthAdjust="spacingAndGlyphs">5</tspan></text>
<text y="1127.40" font-size="18.11" font-family="'DejaVu Sans Light', 'DejaVu Sans', sans-serif" stroke="#000" stroke-width="0.3"><tspan x="193.80" y="1129.75" font-size="23.54" textLength="10.60" lengthAdjust="spacingAndGlyphs">[</tspan> <tspan x="213.46" y="1127.40" textLength="41.07" lengthAdjust="spacingAndGlyphs">GND</tspan> <tspan x="263.52" y="1129.75" font-size="23.54" textLength="10.60" lengthAdjust="spacingAndGlyphs">]</tspan></text>
<text y="1157.60" font-size="18.11" font-family="'DejaVu Sans Light', 'DejaVu Sans', sans-serif" stroke="#000" stroke-width="0.3"><tspan x="393.54" y="1157.60" textLength="24.14" lengthAdjust="spacingAndGlyphs">15</tspan></text>
<text y="1157.80" font-size="15.91" font-family="'DejaVu Sans Light', 'DejaVu Sans', sans-serif" stroke="#000" stroke-width="0.3"><tspan x="675.06" y="1157.80" textLength="13.30" lengthAdjust="spacingAndGlyphs">7</tspan></text>
<text y="1154.60" font-size="17.11" font-family="'DejaVu Sans Light', 'DejaVu Sans', sans-serif" stroke="#000" stroke-width="0.3"><tspan x="194.09" y="1156.82" font-size="22.24" textLength="10.01" lengthAdjust="spacingAndGlyphs">[</tspan> <tspan x="212.43" y="1154.60" textLength="84.11" lengthAdjust="spacingAndGlyphs">ML_Lane</tspan> <tspan x="306.69" y="1154.60" textLength="42.91" lengthAdjust="spacingAndGlyphs">2(p)</tspan> <tspan x="358.82" y="1156.82" font-size="22.24" textLength="10.01" lengthAdjust="spacingAndGlyphs">]</tspan></text>
<text y="1183.50" font-size="18.11" font-family="'DejaVu Sans Light', 'DejaVu Sans', sans-serif" stroke="#000" stroke-width="0.3"><tspan x="393.54" y="1183.50" textLength="24.14" lengthAdjust="spacingAndGlyphs">17</tspan></text>
<text y="1183.40" font-size="15.91" font-family="'DejaVu Sans Light', 'DejaVu Sans', sans-serif" stroke="#000" stroke-width="0.3"><tspan x="674.78" y="1183.40" textLength="13.03" lengthAdjust="spacingAndGlyphs">9</tspan></text>
<text y="1180.40" font-size="17.11" font-family="'DejaVu Sans Light', 'DejaVu Sans', sans-serif" stroke="#000" stroke-width="0.3"><tspan x="194.09" y="1182.62" font-size="22.24" textLength="10.01" lengthAdjust="spacingAndGlyphs">[</tspan> <tspan x="212.43" y="1180.40" textLength="84.11" lengthAdjust="spacingAndGlyphs">ML_Lane</tspan> <tspan x="306.69" y="1180.40" textLength="42.91" lengthAdjust="spacingAndGlyphs">2(n)</tspan> <tspan x="358.82" y="1182.62" font-size="22.24" textLength="10.01" lengthAdjust="spacingAndGlyphs">]</tspan></text>
<text y="1208.50" font-size="18.11" font-family="'DejaVu Sans Light', 'DejaVu Sans', sans-serif" stroke="#000" stroke-width="0.3"><tspan x="393.56" y="1208.50" textLength="24.00" lengthAdjust="spacingAndGlyphs">13</tspan></text>
<text y="1209.40" font-size="15.91" font-family="'DejaVu Sans Light', 'DejaVu Sans', sans-serif" stroke="#000" stroke-width="0.3"><tspan x="674.83" y="1209.40" textLength="13.15" lengthAdjust="spacingAndGlyphs">8</tspan></text>
<text y="1205.60" font-size="18.11" font-family="'DejaVu Sans Light', 'DejaVu Sans', sans-serif" stroke="#000" stroke-width="0.3"><tspan x="193.80" y="1207.95" font-size="23.54" textLength="10.60" lengthAdjust="spacingAndGlyphs">[</tspan> <tspan x="213.46" y="1205.60" textLength="41.07" lengthAdjust="spacingAndGlyphs">GND</tspan> <tspan x="263.52" y="1207.95" font-size="23.54" textLength="10.60" lengthAdjust="spacingAndGlyphs">]</tspan></text>
<text y="1234.40" font-size="18.11" font-family="'DejaVu Sans Light', 'DejaVu Sans', sans-serif" stroke="#000" stroke-width="0.3"><tspan x="393.58" y="1234.40" textLength="23.71" lengthAdjust="spacingAndGlyphs">10</tspan></text>
<text y="1235.30" font-size="15.91" font-family="'DejaVu Sans Light', 'DejaVu Sans', sans-serif" stroke="#000" stroke-width="0.3"><tspan x="670.31" y="1235.30" textLength="21.88" lengthAdjust="spacingAndGlyphs">10</tspan></text>
<text y="1231.40" font-size="17.11" font-family="'DejaVu Sans Light', 'DejaVu Sans', sans-serif" stroke="#000" stroke-width="0.3"><tspan x="194.09" y="1233.62" font-size="22.24" textLength="10.01" lengthAdjust="spacingAndGlyphs">[</tspan> <tspan x="212.43" y="1231.40" textLength="84.11" lengthAdjust="spacingAndGlyphs">ML_Lane</tspan> <tspan x="306.54" y="1231.40" textLength="43.07" lengthAdjust="spacingAndGlyphs">3(p)</tspan> <tspan x="358.82" y="1233.62" font-size="22.24" textLength="10.01" lengthAdjust="spacingAndGlyphs">]</tspan></text>
<text y="1260.60" font-size="18.11" font-family="'DejaVu Sans Light', 'DejaVu Sans', sans-serif" stroke="#000" stroke-width="0.3"><tspan x="393.57" y="1260.60" textLength="23.89" lengthAdjust="spacingAndGlyphs">12</tspan></text>
<text y="1262.30" font-size="15.91" font-family="'DejaVu Sans Light', 'DejaVu Sans', sans-serif" stroke="#000" stroke-width="0.3"><tspan x="670.29" y="1262.30" textLength="22.05" lengthAdjust="spacingAndGlyphs">12</tspan></text>
<text y="1257.40" font-size="17.11" font-family="'DejaVu Sans Light', 'DejaVu Sans', sans-serif" stroke="#000" stroke-width="0.3"><tspan x="194.09" y="1259.62" font-size="22.24" textLength="10.01" lengthAdjust="spacingAndGlyphs">[</tspan> <tspan x="212.43" y="1257.40" textLength="84.11" lengthAdjust="spacingAndGlyphs">ML_Lane</tspan> <tspan x="306.54" y="1257.40" textLength="43.07" lengthAdjust="spacingAndGlyphs">3(n)</tspan> <tspan x="358.82" y="1259.62" font-size="22.24" textLength="10.01" lengthAdjust="spacingAndGlyphs">]</tspan></text>
<text y="1287.40" font-size="18.11" font-family="'DejaVu Sans Light', 'DejaVu Sans', sans-serif" stroke="#000" stroke-width="0.3"><tspan x="398.51" y="1287.40" textLength="14.18" lengthAdjust="spacingAndGlyphs">8</tspan></text>
<text y="1287.40" font-size="15.91" font-family="'DejaVu Sans Light', 'DejaVu Sans', sans-serif" stroke="#000" stroke-width="0.3"><tspan x="672.58" y="1287.40" textLength="17.72" lengthAdjust="spacingAndGlyphs">11</tspan></text>
<text y="1284.20" font-size="18.11" font-family="'DejaVu Sans Light', 'DejaVu Sans', sans-serif" stroke="#000" stroke-width="0.3"><tspan x="193.80" y="1286.55" font-size="23.54" textLength="10.60" lengthAdjust="spacingAndGlyphs">[</tspan> <tspan x="213.46" y="1284.20" textLength="41.07" lengthAdjust="spacingAndGlyphs">GND</tspan> <tspan x="263.52" y="1286.55" font-size="23.54" textLength="10.60" lengthAdjust="spacingAndGlyphs">]</tspan></text>
<text y="1317.50" font-size="18.11" font-family="'DejaVu Sans Light', 'DejaVu Sans', sans-serif" stroke="#000" stroke-width="0.3"><tspan x="393.98" y="1317.50" textLength="22.84" lengthAdjust="spacingAndGlyphs">16</tspan></text>
<text y="1318.40" font-size="15.91" font-family="'DejaVu Sans Light', 'DejaVu Sans', sans-serif" stroke="#000" stroke-width="0.3"><tspan x="670.27" y="1318.40" textLength="22.28" lengthAdjust="spacingAndGlyphs">15</tspan></text>
<text y="1314.70" font-size="17.11" font-family="'DejaVu Sans Light', 'DejaVu Sans', sans-serif" stroke="#000" stroke-width="0.3"><tspan x="194.13" y="1316.92" font-size="22.24" textLength="10.01" lengthAdjust="spacingAndGlyphs">[</tspan> <tspan x="213.34" y="1314.70" textLength="108.21" lengthAdjust="spacingAndGlyphs">AUX_CH(p)</tspan> <tspan x="331.18" y="1316.92" font-size="22.24" textLength="10.01" lengthAdjust="spacingAndGlyphs">]</tspan></text>
<text y="1343.30" font-size="18.11" font-family="'DejaVu Sans Light', 'DejaVu Sans', sans-serif" stroke="#000" stroke-width="0.3"><tspan x="393.58" y="1343.30" textLength="23.75" lengthAdjust="spacingAndGlyphs">18</tspan></text>
<text y="1345.00" font-size="15.91" font-family="'DejaVu Sans Light', 'DejaVu Sans', sans-serif" stroke="#000" stroke-width="0.3"><tspan x="670.27" y="1345.00" textLength="22.28" lengthAdjust="spacingAndGlyphs">17</tspan></text>
<text y="1340.20" font-size="17.11" font-family="'DejaVu Sans Light', 'DejaVu Sans', sans-serif" stroke="#000" stroke-width="0.3"><tspan x="194.13" y="1342.42" font-size="22.24" textLength="10.01" lengthAdjust="spacingAndGlyphs">[</tspan> <tspan x="213.34" y="1340.20" textLength="108.21" lengthAdjust="spacingAndGlyphs">AUX_CH(n)</tspan> <tspan x="331.18" y="1342.42" font-size="22.24" textLength="10.01" lengthAdjust="spacingAndGlyphs">]</tspan></text>
<text y="1369.70" font-size="18.11" font-family="'DejaVu Sans Light', 'DejaVu Sans', sans-serif" stroke="#000" stroke-width="0.3"><tspan x="393.22" y="1369.70" textLength="24.20" lengthAdjust="spacingAndGlyphs">14</tspan></text>
<text y="1370.00" font-size="15.91" font-family="'DejaVu Sans Light', 'DejaVu Sans', sans-serif" stroke="#000" stroke-width="0.3"><tspan x="670.67" y="1370.00" textLength="21.08" lengthAdjust="spacingAndGlyphs">16</tspan></text>
<text y="1366.40" font-size="18.11" font-family="'DejaVu Sans Light', 'DejaVu Sans', sans-serif" stroke="#000" stroke-width="0.3"><tspan x="193.80" y="1368.75" font-size="23.54" textLength="10.60" lengthAdjust="spacingAndGlyphs">[</tspan> <tspan x="213.46" y="1366.40" textLength="41.07" lengthAdjust="spacingAndGlyphs">GND</tspan> <tspan x="263.52" y="1368.75" font-size="23.54" textLength="10.60" lengthAdjust="spacingAndGlyphs">]</tspan></text>
<text y="1395.40" font-size="18.11" font-family="'DejaVu Sans Light', 'DejaVu Sans', sans-serif" stroke="#000" stroke-width="0.3"><tspan x="399.13" y="1395.40" textLength="13.61" lengthAdjust="spacingAndGlyphs">2</tspan></text>
<text y="1396.60" font-size="15.91" font-family="'DejaVu Sans Light', 'DejaVu Sans', sans-serif" stroke="#000" stroke-width="0.3"><tspan x="670.30" y="1396.60" textLength="21.92" lengthAdjust="spacingAndGlyphs">18</tspan></text>
<text y="1393.00" font-size="17.11" font-family="'DejaVu Sans Light', 'DejaVu Sans', sans-serif" stroke="#000" stroke-width="0.3"><tspan x="194.08" y="1395.22" font-size="22.24" textLength="10.01" lengthAdjust="spacingAndGlyphs">[</tspan> <tspan x="213.08" y="1393.00" textLength="34.05" lengthAdjust="spacingAndGlyphs">Hot</tspan> <tspan x="256.71" y="1393.00" textLength="43.14" lengthAdjust="spacingAndGlyphs">Plug</tspan> <tspan x="309.56" y="1393.00" textLength="63.16" lengthAdjust="spacingAndGlyphs">Detect</tspan> <tspan x="381.84" y="1395.22" font-size="22.24" textLength="10.01" lengthAdjust="spacingAndGlyphs">]</tspan></text>
<text y="1421.60" font-size="18.11" font-family="'DejaVu Sans Light', 'DejaVu Sans', sans-serif" stroke="#000" stroke-width="0.3"><tspan x="399.26" y="1421.60" textLength="13.34" lengthAdjust="spacingAndGlyphs">4</tspan></text>
<text y="1422.50" font-size="15.91" font-family="'DejaVu Sans Light', 'DejaVu Sans', sans-serif" stroke="#000" stroke-width="0.3"><tspan x="670.28" y="1422.50" textLength="22.15" lengthAdjust="spacingAndGlyphs">13</tspan></text>
<text y="1421.20" font-size="18.11" font-family="'DejaVu Sans Light', 'DejaVu Sans', sans-serif" stroke="#000" stroke-width="0.3"><tspan x="193.76" y="1423.55" font-size="23.54" textLength="10.60" lengthAdjust="spacingAndGlyphs">[</tspan> <tspan x="213.05" y="1421.20" textLength="70.85" lengthAdjust="spacingAndGlyphs">CONFIG</tspan> <tspan x="292.38" y="1421.20" textLength="11.48" lengthAdjust="spacingAndGlyphs">1</tspan> <tspan x="312.77" y="1423.55" font-size="23.54" textLength="10.60" lengthAdjust="spacingAndGlyphs">]</tspan></text>
<text y="1448.50" font-size="18.11" font-family="'DejaVu Sans Light', 'DejaVu Sans', sans-serif" stroke="#000" stroke-width="0.3"><tspan x="399.38" y="1448.50" textLength="12.25" lengthAdjust="spacingAndGlyphs">6</tspan></text>
<text y="1449.00" font-size="15.91" font-family="'DejaVu Sans Light', 'DejaVu Sans', sans-serif" stroke="#000" stroke-width="0.3"><tspan x="669.97" y="1449.00" textLength="22.33" lengthAdjust="spacingAndGlyphs">14</tspan></text>
<text y="1446.40" font-size="18.11" font-family="'DejaVu Sans Light', 'DejaVu Sans', sans-serif" stroke="#000" stroke-width="0.3"><tspan x="193.77" y="1448.75" font-size="23.54" textLength="10.60" lengthAdjust="spacingAndGlyphs">[</tspan> <tspan x="213.20" y="1446.40" textLength="71.47" lengthAdjust="spacingAndGlyphs">CONFIG</tspan> <tspan x="294.17" y="1446.40" textLength="13.42" lengthAdjust="spacingAndGlyphs">2</tspan> <tspan x="315.75" y="1448.75" font-size="23.54" textLength="10.60" lengthAdjust="spacingAndGlyphs">]</tspan></text>
<text y="1473.20" font-size="18.11" font-family="'DejaVu Sans Light', 'DejaVu Sans', sans-serif" stroke="#000" stroke-width="0.3"><tspan x="393.59" y="1473.20" textLength="23.60" lengthAdjust="spacingAndGlyphs">19</tspan></text>
<text y="1473.40" font-size="15.91" font-family="'DejaVu Sans Light', 'DejaVu Sans', sans-serif" stroke="#000" stroke-width="0.3"><tspan x="670.31" y="1473.40" textLength="21.78" lengthAdjust="spacingAndGlyphs">19</tspan></text>
<text y="1469.20" font-size="18.11" font-family="'DejaVu Sans Light', 'DejaVu Sans', sans-serif" stroke="#000" stroke-width="0.3"><tspan x="193.80" y="1471.55" font-size="23.54" textLength="10.60" lengthAdjust="spacingAndGlyphs">[</tspan> <tspan x="213.46" y="1469.20" textLength="41.07" lengthAdjust="spacingAndGlyphs">GND</tspan> <tspan x="263.52" y="1471.55" font-size="23.54" textLength="10.60" lengthAdjust="spacingAndGlyphs">]</tspan></text>
<text y="1499.40" font-size="18.11" font-family="'DejaVu Sans Light', 'DejaVu Sans', sans-serif" stroke="#000" stroke-width="0.3"><tspan x="392.77" y="1499.40" textLength="26.14" lengthAdjust="spacingAndGlyphs">20</tspan></text>
<text y="1499.30" font-size="15.91" font-family="'DejaVu Sans Light', 'DejaVu Sans', sans-serif" stroke="#000" stroke-width="0.3"><tspan x="669.56" y="1499.30" textLength="24.12" lengthAdjust="spacingAndGlyphs">20</tspan></text>
<text y="1495.60" font-size="18.11" font-family="'DejaVu Sans Light', 'DejaVu Sans', sans-serif" stroke="#000" stroke-width="0.3"><tspan x="193.78" y="1497.95" font-size="23.54" textLength="10.60" lengthAdjust="spacingAndGlyphs">[</tspan> <tspan x="213.04" y="1495.60" textLength="26.69" lengthAdjust="spacingAndGlyphs">DP</tspan> <tspan x="249.88" y="1495.60" textLength="41.54" lengthAdjust="spacingAndGlyphs">PWR</tspan> <tspan x="300.75" y="1497.95" font-size="23.54" textLength="10.60" lengthAdjust="spacingAndGlyphs">]</tspan></text>
<line x1="781.00" y1="989.50" x2="839.80" y2="989.50" stroke="#000" stroke-width="2.0" stroke-linecap="butt"/>
<text y="1001.60" font-size="25.87" font-family="'Liberation Sans', sans-serif"><tspan x="847.23" y="1001.60" textLength="14.91" lengthAdjust="spacingAndGlyphs">3</tspan></text>
<text y="1002.40" font-size="24.17" font-family="'Liberation Sans', sans-serif"><tspan x="885.12" y="1002.40" textLength="62.40" lengthAdjust="spacingAndGlyphs">TMDS</tspan> <tspan x="963.25" y="1002.40" textLength="68.00" lengthAdjust="spacingAndGlyphs">data2</tspan><tspan x="1027.16" y="1002.40" textLength="26.95" lengthAdjust="spacingAndGlyphs">-</tspan></text>
<line x1="781.00" y1="1017.43" x2="839.80" y2="1017.43" stroke="#000" stroke-width="2.0" stroke-linecap="butt"/>
<text y="1025.20" font-size="25.87" font-family="'Liberation Sans', sans-serif"><tspan x="847.79" y="1025.20" textLength="12.99" lengthAdjust="spacingAndGlyphs">1</tspan></text>
<text y="1026.30" font-size="24.17" font-family="'Liberation Sans', sans-serif"><tspan x="885.12" y="1026.30" textLength="62.40" lengthAdjust="spacingAndGlyphs">TMDS</tspan> <tspan x="963.25" y="1026.30" textLength="68.00" lengthAdjust="spacingAndGlyphs">data2</tspan><tspan x="1028.72" y="1028.72" font-size="34.33" textLength="23.82" lengthAdjust="spacingAndGlyphs">+</tspan></text>
<line x1="781.00" y1="1045.36" x2="839.80" y2="1045.36" stroke="#000" stroke-width="2.0" stroke-linecap="butt"/>
<text y="1050.60" font-size="25.87" font-family="'Liberation Sans', sans-serif"><tspan x="846.85" y="1050.60" textLength="15.50" lengthAdjust="spacingAndGlyphs">2</tspan></text>
<text y="1050.20" font-size="24.17" font-family="'Liberation Sans', sans-serif"><tspan x="885.12" y="1050.20" textLength="62.40" lengthAdjust="spacingAndGlyphs">TMDS</tspan> <tspan x="963.25" y="1050.20" textLength="68.00" lengthAdjust="spacingAndGlyphs">data2</tspan> <tspan x="1046.65" y="1050.20" textLength="69.76" lengthAdjust="spacingAndGlyphs">Shield</tspan></text>
<line x1="781.00" y1="1073.29" x2="839.80" y2="1073.29" stroke="#000" stroke-width="2.0" stroke-linecap="butt"/>
<text y="1086.00" font-size="25.87" font-family="'Liberation Sans', sans-serif"><tspan x="847.77" y="1086.00" textLength="13.49" lengthAdjust="spacingAndGlyphs">6</tspan></text>
<text y="1086.50" font-size="24.17" font-family="'Liberation Sans', sans-serif"><tspan x="885.12" y="1086.50" textLength="62.40" lengthAdjust="spacingAndGlyphs">TMDS</tspan> <tspan x="963.34" y="1086.50" textLength="62.81" lengthAdjust="spacingAndGlyphs">data1</tspan><tspan x="1024.87" y="1086.50" textLength="26.95" lengthAdjust="spacingAndGlyphs">-</tspan></text>
<line x1="781.00" y1="1101.22" x2="839.80" y2="1101.22" stroke="#000" stroke-width="2.0" stroke-linecap="butt"/>
<text y="1110.00" font-size="25.87" font-family="'Liberation Sans', sans-serif"><tspan x="847.25" y="1110.00" textLength="14.87" lengthAdjust="spacingAndGlyphs">4</tspan></text>
<text y="1110.40" font-size="24.17" font-family="'Liberation Sans', sans-serif"><tspan x="885.12" y="1110.40" textLength="62.40" lengthAdjust="spacingAndGlyphs">TMDS</tspan> <tspan x="963.34" y="1110.40" textLength="62.81" lengthAdjust="spacingAndGlyphs">data1</tspan><tspan x="1026.43" y="1112.82" font-size="34.33" textLength="23.82" lengthAdjust="spacingAndGlyphs">+</tspan></text>
<line x1="781.00" y1="1129.15" x2="839.80" y2="1129.15" stroke="#000" stroke-width="2.0" stroke-linecap="butt"/>
<text y="1134.30" font-size="25.87" font-family="'Liberation Sans', sans-serif"><tspan x="847.17" y="1134.30" textLength="14.91" lengthAdjust="spacingAndGlyphs">5</tspan></text>
<text y="1134.30" font-size="24.17" font-family="'Liberation Sans', sans-serif"><tspan x="885.12" y="1134.30" textLength="62.40" lengthAdjust="spacingAndGlyphs">TMDS</tspan> <tspan x="963.34" y="1134.30" textLength="62.81" lengthAdjust="spacingAndGlyphs">data1</tspan> <tspan x="1044.36" y="1134.30" textLength="69.76" lengthAdjust="spacingAndGlyphs">Shield</tspan></text>
<line x1="781.00" y1="1157.08" x2="839.80" y2="1157.08" stroke="#000" stroke-width="2.0" stroke-linecap="butt"/>
<text y="1171.60" font-size="25.87" font-family="'Liberation Sans', sans-serif"><tspan x="846.95" y="1171.60" textLength="15.30" lengthAdjust="spacingAndGlyphs">9</tspan></text>
<text y="1170.40" font-size="24.17" font-family="'Liberation Sans', sans-serif"><tspan x="885.12" y="1170.40" textLength="62.40" lengthAdjust="spacingAndGlyphs">TMDS</tspan> <tspan x="963.26" y="1170.40" textLength="67.69" lengthAdjust="spacingAndGlyphs">data0</tspan><tspan x="1027.16" y="1170.40" textLength="26.95" lengthAdjust="spacingAndGlyphs">-</tspan></text>
<line x1="781.00" y1="1185.01" x2="839.80" y2="1185.01" stroke="#000" stroke-width="2.0" stroke-linecap="butt"/>
<text y="1195.50" font-size="25.87" font-family="'Liberation Sans', sans-serif"><tspan x="846.82" y="1195.50" textLength="15.54" lengthAdjust="spacingAndGlyphs">7</tspan></text>
<text y="1194.40" font-size="24.17" font-family="'Liberation Sans', sans-serif"><tspan x="885.12" y="1194.40" textLength="62.40" lengthAdjust="spacingAndGlyphs">TMDS</tspan> <tspan x="963.26" y="1194.40" textLength="67.69" lengthAdjust="spacingAndGlyphs">data0</tspan><tspan x="1028.72" y="1196.82" font-size="34.33" textLength="23.82" lengthAdjust="spacingAndGlyphs">+</tspan></text>
<line x1="781.00" y1="1212.94" x2="839.80" y2="1212.94" stroke="#000" stroke-width="2.0" stroke-linecap="butt"/>
<text y="1220.00" font-size="25.87" font-family="'Liberation Sans', sans-serif"><tspan x="847.08" y="1220.00" textLength="15.04" lengthAdjust="spacingAndGlyphs">8</tspan></text>
<text y="1218.70" font-size="24.17" font-family="'Liberation Sans', sans-serif"><tspan x="885.12" y="1218.70" textLength="62.40" lengthAdjust="spacingAndGlyphs">TMDS</tspan> <tspan x="963.26" y="1218.70" textLength="67.69" lengthAdjust="spacingAndGlyphs">data0</tspan> <tspan x="1046.65" y="1218.70" textLength="69.76" lengthAdjust="spacingAndGlyphs">Shield</tspan></text>
<line x1="781.00" y1="1240.87" x2="839.80" y2="1240.87" stroke="#000" stroke-width="2.0" stroke-linecap="butt"/>
<text y="1249.70" font-size="25.87" font-family="'Liberation Sans', sans-serif"><tspan x="840.42" y="1249.70" textLength="27.71" lengthAdjust="spacingAndGlyphs">12</tspan></text>
<text y="1252.20" font-size="24.17" font-family="'Liberation Sans', sans-serif"><tspan x="885.12" y="1252.20" textLength="62.40" lengthAdjust="spacingAndGlyphs">TMDS</tspan> <tspan x="963.13" y="1252.20" textLength="62.15" lengthAdjust="spacingAndGlyphs">Clock</tspan><tspan x="1022.57" y="1252.20" textLength="26.95" lengthAdjust="spacingAndGlyphs">-</tspan></text>
<line x1="781.00" y1="1268.80" x2="839.80" y2="1268.80" stroke="#000" stroke-width="2.0" stroke-linecap="butt"/>
<text y="1277.40" font-size="25.87" font-family="'Liberation Sans', sans-serif"><tspan x="840.44" y="1277.40" textLength="27.40" lengthAdjust="spacingAndGlyphs">10</tspan></text>
<text y="1276.00" font-size="24.17" font-family="'Liberation Sans', sans-serif"><tspan x="885.12" y="1276.00" textLength="62.40" lengthAdjust="spacingAndGlyphs">TMDS</tspan> <tspan x="963.13" y="1276.00" textLength="62.15" lengthAdjust="spacingAndGlyphs">Clock</tspan><tspan x="1024.13" y="1278.42" font-size="34.33" textLength="23.82" lengthAdjust="spacingAndGlyphs">+</tspan></text>
<line x1="781.00" y1="1296.73" x2="839.80" y2="1296.73" stroke="#000" stroke-width="2.0" stroke-linecap="butt"/>
<text y="1305.00" font-size="25.87" font-family="'Liberation Sans', sans-serif"><tspan x="843.29" y="1305.00" textLength="22.08" lengthAdjust="spacingAndGlyphs">11</tspan></text>
<text y="1300.00" font-size="24.17" font-family="'Liberation Sans', sans-serif"><tspan x="885.12" y="1300.00" textLength="62.40" lengthAdjust="spacingAndGlyphs">TMDS</tspan> <tspan x="963.13" y="1300.00" textLength="62.15" lengthAdjust="spacingAndGlyphs">Clock</tspan> <tspan x="1042.06" y="1300.00" textLength="69.76" lengthAdjust="spacingAndGlyphs">Shield</tspan></text>
<line x1="781.00" y1="1324.66" x2="839.80" y2="1324.66" stroke="#000" stroke-width="2.0" stroke-linecap="butt"/>
<text y="1334.00" font-size="25.87" font-family="'Liberation Sans', sans-serif"><tspan x="840.43" y="1334.00" textLength="27.54" lengthAdjust="spacingAndGlyphs">13</tspan></text>
<text y="1333.00" font-size="25.58" font-family="'Liberation Sans', sans-serif"><tspan x="891.49" y="1333.00" textLength="46.02" lengthAdjust="spacingAndGlyphs">CEC</tspan></text>
<line x1="781.00" y1="1352.59" x2="839.80" y2="1352.59" stroke="#000" stroke-width="2.0" stroke-linecap="butt"/>
<text y="1362.60" font-size="25.87" font-family="'Liberation Sans', sans-serif"><tspan x="840.02" y="1362.60" textLength="27.98" lengthAdjust="spacingAndGlyphs">14</tspan></text>
<text y="1363.30" font-size="24.17" font-family="'Liberation Sans', sans-serif"><tspan x="890.56" y="1363.30" textLength="106.62" lengthAdjust="spacingAndGlyphs">Reserved</tspan></text>
<line x1="781.00" y1="1380.52" x2="839.80" y2="1380.52" stroke="#000" stroke-width="2.0" stroke-linecap="butt"/>
<text y="1388.00" font-size="25.87" font-family="'Liberation Sans', sans-serif"><tspan x="840.44" y="1388.00" textLength="27.49" lengthAdjust="spacingAndGlyphs">15</tspan></text>
<text y="1387.80" font-size="25.58" font-family="'Liberation Sans', sans-serif"><tspan x="891.56" y="1387.80" textLength="45.12" lengthAdjust="spacingAndGlyphs">SCL</tspan></text>
<line x1="781.00" y1="1408.45" x2="839.80" y2="1408.45" stroke="#000" stroke-width="2.0" stroke-linecap="butt"/>
<text y="1415.00" font-size="25.87" font-family="'Liberation Sans', sans-serif"><tspan x="840.88" y="1415.00" textLength="26.69" lengthAdjust="spacingAndGlyphs">16</tspan></text>
<text y="1418.00" font-size="25.58" font-family="'Liberation Sans', sans-serif"><tspan x="891.61" y="1418.00" textLength="45.11" lengthAdjust="spacingAndGlyphs">SDA</tspan></text>
<line x1="781.00" y1="1436.38" x2="839.80" y2="1436.38" stroke="#000" stroke-width="2.0" stroke-linecap="butt"/>
<text y="1446.00" font-size="25.87" font-family="'Liberation Sans', sans-serif"><tspan x="840.42" y="1446.00" textLength="27.71" lengthAdjust="spacingAndGlyphs">17</tspan></text>
<text y="1448.20" font-size="24.17" font-family="'Liberation Sans', sans-serif"><tspan x="890.60" y="1448.20" textLength="111.27" lengthAdjust="spacingAndGlyphs">DDC/CEC</tspan> <tspan x="1017.57" y="1448.20" textLength="83.66" lengthAdjust="spacingAndGlyphs">Ground</tspan></text>
<line x1="781.00" y1="1464.31" x2="839.80" y2="1464.31" stroke="#000" stroke-width="2.0" stroke-linecap="butt"/>
<text y="1472.40" font-size="25.87" font-family="'Liberation Sans', sans-serif"><tspan x="840.44" y="1472.40" textLength="27.52" lengthAdjust="spacingAndGlyphs">18</tspan></text>
<text y="1471.60" font-size="24.17" font-family="'Liberation Sans', sans-serif"><tspan x="890.60" y="1474.02" font-size="34.33" textLength="23.82" lengthAdjust="spacingAndGlyphs">+</tspan><tspan x="912.53" y="1471.60" textLength="29.08" lengthAdjust="spacingAndGlyphs">5V</tspan> <tspan x="956.54" y="1471.60" textLength="71.80" lengthAdjust="spacingAndGlyphs">Power</tspan></text>
<line x1="781.00" y1="1492.24" x2="839.80" y2="1492.24" stroke="#000" stroke-width="2.0" stroke-linecap="butt"/>
<text y="1498.00" font-size="25.87" font-family="'Liberation Sans', sans-serif"><tspan x="840.43" y="1498.00" textLength="27.63" lengthAdjust="spacingAndGlyphs">19</tspan></text>
<text y="1498.00" font-size="24.17" font-family="'Liberation Sans', sans-serif"><tspan x="890.48" y="1498.00" textLength="40.25" lengthAdjust="spacingAndGlyphs">Hot</tspan> <tspan x="946.33" y="1498.00" textLength="51.67" lengthAdjust="spacingAndGlyphs">Plug</tspan> <tspan x="1012.86" y="1498.00" textLength="75.46" lengthAdjust="spacingAndGlyphs">Detect</tspan></text>
<g transform="translate(728.6,1224.6) rotate(90)">
<text x="0.00" y="0.00" font-size="25.5" font-family="'Liberation Sans', sans-serif" textLength="61.60" lengthAdjust="spacingAndGlyphs">PCBA</text>
</g>
<line x1="458.50" y1="1549.00" x2="820.80" y2="1549.00" stroke="#000" stroke-width="2.0" stroke-linecap="butt"/>
<text y="1556.60" font-size="24.13" font-family="'Liberation Sans', sans-serif"><tspan x="371.85" y="1556.60" textLength="74.15" lengthAdjust="spacingAndGlyphs">SHELL</tspan></text>
<text y="1556.60" font-size="24.13" font-family="'Liberation Sans', sans-serif"><tspan x="835.35" y="1556.60" textLength="74.15" lengthAdjust="spacingAndGlyphs">SHELL</tspan></text>
<text y="921.50" font-size="25.29" font-family="'Liberation Sans', sans-serif"><tspan x="325.11" y="921.50" textLength="48.76" lengthAdjust="spacingAndGlyphs">MINI</tspan> <tspan x="387.09" y="921.50" textLength="32.82" lengthAdjust="spacingAndGlyphs">DP</tspan> <tspan x="433.21" y="921.50" textLength="64.35" lengthAdjust="spacingAndGlyphs">PLUG</tspan></text>
<text y="951.60" font-size="25.29" font-family="'Liberation Sans', sans-serif"><tspan x="359.51" y="951.60" textLength="118.57" lengthAdjust="spacingAndGlyphs">(SOURCE)</tspan></text>
<text y="921.50" font-size="25.29" font-family="'Liberation Sans', sans-serif"><tspan x="743.23" y="921.50" textLength="61.37" lengthAdjust="spacingAndGlyphs">HDMI</tspan> <tspan x="817.44" y="921.50" textLength="62.05" lengthAdjust="spacingAndGlyphs">TYPE</tspan> <tspan x="892.33" y="921.50" textLength="15.12" lengthAdjust="spacingAndGlyphs">A</tspan> <tspan x="921.03" y="921.50" textLength="64.28" lengthAdjust="spacingAndGlyphs">MALE</tspan></text>
<text y="951.60" font-size="25.29" font-family="'Liberation Sans', sans-serif"><tspan x="804.81" y="951.60" textLength="76.77" lengthAdjust="spacingAndGlyphs">(SINK)</tspan></text>
<text y="858.00" font-size="37.41" font-family="'DejaVu Sans Light', 'DejaVu Sans', sans-serif" stroke="#000" stroke-width="0.1"><tspan x="501.33" y="858.00" textLength="65.74" lengthAdjust="spacingAndGlyphs">PIN</tspan> <tspan x="585.18" y="858.00" textLength="251.21" lengthAdjust="spacingAndGlyphs">ASSIGNMENT:</tspan></text>
<line x1="1202.10" y1="1128.00" x2="1202.10" y2="1639.00" stroke="#000" stroke-width="2.0" stroke-linecap="butt"/>
<line x1="1202.10" y1="1128.00" x2="2139.00" y2="1128.00" stroke="#000" stroke-width="2.0" stroke-linecap="butt"/>
<line x1="1202.10" y1="1161.80" x2="2139.00" y2="1161.80" stroke="#000" stroke-width="2.0" stroke-linecap="butt"/>
<line x1="1202.10" y1="1194.80" x2="2139.00" y2="1194.80" stroke="#000" stroke-width="2.0" stroke-linecap="butt"/>
<line x1="1202.10" y1="1227.90" x2="2139.00" y2="1227.90" stroke="#000" stroke-width="2.0" stroke-linecap="butt"/>
<line x1="1202.10" y1="1261.10" x2="2139.00" y2="1261.10" stroke="#000" stroke-width="2.0" stroke-linecap="butt"/>
<line x1="1202.10" y1="1294.10" x2="2139.00" y2="1294.10" stroke="#000" stroke-width="2.0" stroke-linecap="butt"/>
<line x1="1202.10" y1="1327.20" x2="2139.00" y2="1327.20" stroke="#000" stroke-width="2.0" stroke-linecap="butt"/>
<line x1="1202.10" y1="1361.00" x2="2139.00" y2="1361.00" stroke="#000" stroke-width="2.0" stroke-linecap="butt"/>
<line x1="1244.90" y1="1128.00" x2="1244.90" y2="1361.00" stroke="#000" stroke-width="2.0" stroke-linecap="butt"/>
<line x1="1439.90" y1="1128.00" x2="1439.90" y2="1361.00" stroke="#000" stroke-width="2.0" stroke-linecap="butt"/>
<line x1="2024.20" y1="1128.00" x2="2024.20" y2="1361.00" stroke="#000" stroke-width="2.0" stroke-linecap="butt"/>
<line x1="1469.20" y1="1361.00" x2="1469.20" y2="1639.00" stroke="#000" stroke-width="2.0" stroke-linecap="butt"/>
<line x1="1700.50" y1="1361.00" x2="1700.50" y2="1639.00" stroke="#000" stroke-width="2.0" stroke-linecap="butt"/>
<line x1="1202.10" y1="1484.30" x2="2139.00" y2="1484.30" stroke="#000" stroke-width="2.0" stroke-linecap="butt"/>
<line x1="1469.20" y1="1521.20" x2="1700.50" y2="1521.20" stroke="#000" stroke-width="2.0" stroke-linecap="butt"/>
<line x1="1469.20" y1="1559.00" x2="1700.50" y2="1559.00" stroke="#000" stroke-width="2.0" stroke-linecap="butt"/>
<line x1="1469.20" y1="1595.90" x2="1700.50" y2="1595.90" stroke="#000" stroke-width="2.0" stroke-linecap="butt"/>
<line x1="1700.50" y1="1425.30" x2="2139.00" y2="1425.30" stroke="#000" stroke-width="2.0" stroke-linecap="butt"/>
<line x1="1700.50" y1="1590.50" x2="2139.00" y2="1590.50" stroke="#000" stroke-width="2.0" stroke-linecap="butt"/>
<line x1="1850.30" y1="1425.30" x2="1850.30" y2="1484.30" stroke="#000" stroke-width="2.0" stroke-linecap="butt"/>
<line x1="2026.20" y1="1425.30" x2="2026.20" y2="1484.30" stroke="#000" stroke-width="2.0" stroke-linecap="butt"/>
<line x1="2087.30" y1="1484.30" x2="2087.30" y2="1639.00" stroke="#000" stroke-width="2.0" stroke-linecap="butt"/>
<line x1="1296.30" y1="1466.10" x2="1374.50" y2="1392.70" stroke="#000" stroke-width="2.0" stroke-linecap="round"/>
<line x1="1319.60" y1="1417.70" x2="1352.30" y2="1441.80" stroke="#000" stroke-width="1.6" stroke-linecap="round"/>
<line x1="1304.40" y1="1602.90" x2="1382.70" y2="1529.80" stroke="#000" stroke-width="2.0" stroke-linecap="round"/>
<line x1="1327.30" y1="1554.80" x2="1359.80" y2="1579.30" stroke="#000" stroke-width="1.6" stroke-linecap="round"/>
<circle cx="1735.60" cy="1454.60" r="11.20" fill="none" stroke="#000" stroke-width="1.6"/>
<circle cx="1735.60" cy="1454.60" r="5.80" fill="none" stroke="#000" stroke-width="1.4"/>
<line x1="1721.20" y1="1454.60" x2="1750.00" y2="1454.60" stroke="#000" stroke-width="1.3" stroke-linecap="butt"/>
<line x1="1735.60" y1="1440.20" x2="1735.60" y2="1469.00" stroke="#000" stroke-width="1.3" stroke-linecap="butt"/>
<path d="M1780.10,1448.30 L1818.70,1444.00 L1818.70,1465.20 L1780.10,1460.80 Z" fill="none" stroke="#000" stroke-width="1.5" stroke-linejoin="miter"/>
<line x1="1777.00" y1="1454.60" x2="1821.00" y2="1454.60" stroke="#000" stroke-width="1.3" stroke-linecap="butt"/>
<circle cx="1482.40" cy="1389.70" r="2.30" fill="#000" stroke="#000" stroke-width="0"/>
<circle cx="1500.60" cy="1389.70" r="2.30" fill="#000" stroke="#000" stroke-width="0"/>
<circle cx="1518.60" cy="1389.70" r="2.30" fill="#000" stroke="#000" stroke-width="0"/>
<circle cx="1482.40" cy="1410.70" r="2.30" fill="#000" stroke="#000" stroke-width="0"/>
<circle cx="1500.60" cy="1410.70" r="2.30" fill="#000" stroke="#000" stroke-width="0"/>
<circle cx="1482.40" cy="1431.20" r="2.30" fill="#000" stroke="#000" stroke-width="0"/>
<line x1="1477.20" y1="1394.60" x2="1477.20" y2="1399.10" stroke="#222" stroke-width="1.4" stroke-linecap="butt"/>
<line x1="1477.20" y1="1415.60" x2="1477.20" y2="1420.10" stroke="#222" stroke-width="1.4" stroke-linecap="butt"/>
<line x1="1477.20" y1="1436.00" x2="1477.20" y2="1440.50" stroke="#222" stroke-width="1.4" stroke-linecap="butt"/>
<line x1="1477.20" y1="1456.60" x2="1477.20" y2="1461.10" stroke="#222" stroke-width="1.4" stroke-linecap="butt"/>
<text y="1185.80" font-size="23.37" font-family="'Liberation Sans', sans-serif"><tspan x="1214.18" y="1185.80" textLength="13.28" lengthAdjust="spacingAndGlyphs">5</tspan></text>
<text y="1185.00" font-size="21.22" font-family="'Liberation Sans', sans-serif"><tspan x="1265.71" y="1185.00" textLength="112.75" lengthAdjust="spacingAndGlyphs">CONNECTOR</tspan> <tspan x="1388.07" y="1185.00" textLength="12.56" lengthAdjust="spacingAndGlyphs">2</tspan></text>
<text y="1185.00" font-size="20.05" font-family="'Liberation Sans', sans-serif"><tspan x="1452.92" y="1185.00" textLength="46.21" lengthAdjust="spacingAndGlyphs">HDMI</tspan> <tspan x="1508.56" y="1185.00" textLength="11.72" lengthAdjust="spacingAndGlyphs">A</tspan> <tspan x="1529.78" y="1185.00" textLength="42.46" lengthAdjust="spacingAndGlyphs">Male</tspan> <tspan x="1582.21" y="1185.00" textLength="44.70" lengthAdjust="spacingAndGlyphs">Shell</tspan> <tspan x="1636.96" y="1185.00" textLength="40.97" lengthAdjust="spacingAndGlyphs">Gold</tspan> <tspan x="1687.94" y="1185.00" textLength="59.69" lengthAdjust="spacingAndGlyphs">Plated</tspan> <tspan x="1757.95" y="1185.00" textLength="78.29" lengthAdjust="spacingAndGlyphs">W/PCBA</tspan></text>
<text y="1218.80" font-size="23.37" font-family="'Liberation Sans', sans-serif"><tspan x="1214.25" y="1218.80" textLength="13.24" lengthAdjust="spacingAndGlyphs">4</tspan></text>
<text y="1218.00" font-size="20.05" font-family="'Liberation Sans', sans-serif"><tspan x="1263.74" y="1218.00" textLength="150.21" lengthAdjust="spacingAndGlyphs">Overmolding/SR</tspan></text>
<text y="1218.00" font-size="20.05" font-family="'Liberation Sans', sans-serif"><tspan x="1452.91" y="1218.00" textLength="37.41" lengthAdjust="spacingAndGlyphs">PVC</tspan> <tspan x="1501.19" y="1218.00" textLength="5.35" lengthAdjust="spacingAndGlyphs">,</tspan> <tspan x="1517.39" y="1218.00" textLength="50.69" lengthAdjust="spacingAndGlyphs">White</tspan></text>
<text y="1252.20" font-size="23.37" font-family="'Liberation Sans', sans-serif"><tspan x="1214.23" y="1252.20" textLength="13.28" lengthAdjust="spacingAndGlyphs">3</tspan></text>
<text y="1251.40" font-size="21.22" font-family="'Liberation Sans', sans-serif"><tspan x="1263.88" y="1251.40" textLength="60.89" lengthAdjust="spacingAndGlyphs">OUTER</tspan> <tspan x="1334.74" y="1251.40" textLength="61.56" lengthAdjust="spacingAndGlyphs">COVER</tspan></text>
<text y="1251.40" font-size="21.22" font-family="'Liberation Sans', sans-serif"><tspan x="1452.92" y="1251.40" textLength="38.12" lengthAdjust="spacingAndGlyphs">MINI</tspan> <tspan x="1500.80" y="1251.40" textLength="25.81" lengthAdjust="spacingAndGlyphs">DP</tspan> <tspan x="1536.45" y="1251.40" textLength="114.12" lengthAdjust="spacingAndGlyphs">CONNECTOR</tspan> <tspan x="1660.20" y="1251.40" textLength="36.47" lengthAdjust="spacingAndGlyphs">ABS</tspan> <tspan x="1706.73" y="1251.40" textLength="61.19" lengthAdjust="spacingAndGlyphs">OUTER</tspan> <tspan x="1777.94" y="1251.40" textLength="61.86" lengthAdjust="spacingAndGlyphs">COVER</tspan></text>
<text y="1285.00" font-size="23.37" font-family="'Liberation Sans', sans-serif"><tspan x="1213.90" y="1285.00" textLength="13.81" lengthAdjust="spacingAndGlyphs">2</tspan></text>
<text y="1284.20" font-size="21.22" font-family="'Liberation Sans', sans-serif"><tspan x="1265.71" y="1284.20" textLength="112.70" lengthAdjust="spacingAndGlyphs">CONNECTOR</tspan> <tspan x="1387.38" y="1284.20" textLength="10.30" lengthAdjust="spacingAndGlyphs">1</tspan></text>
<text y="1284.20" font-size="20.05" font-family="'Liberation Sans', sans-serif"><tspan x="1452.93" y="1284.20" textLength="37.86" lengthAdjust="spacingAndGlyphs">MINI</tspan> <tspan x="1500.47" y="1284.20" textLength="25.64" lengthAdjust="spacingAndGlyphs">DP</tspan> <tspan x="1535.85" y="1284.20" textLength="113.31" lengthAdjust="spacingAndGlyphs">CONNECTOR</tspan> <tspan x="1659.08" y="1284.20" textLength="49.81" lengthAdjust="spacingAndGlyphs">PLUG</tspan> <tspan x="1718.24" y="1284.20" textLength="44.29" lengthAdjust="spacingAndGlyphs">Shell</tspan> <tspan x="1772.37" y="1284.20" textLength="55.47" lengthAdjust="spacingAndGlyphs">Nickel</tspan> <tspan x="1837.60" y="1284.20" textLength="59.14" lengthAdjust="spacingAndGlyphs">Plated</tspan></text>
<text y="1318.30" font-size="23.37" font-family="'Liberation Sans', sans-serif"><tspan x="1214.75" y="1318.30" textLength="11.54" lengthAdjust="spacingAndGlyphs">1</tspan></text>
<text y="1317.50" font-size="21.22" font-family="'Liberation Sans', sans-serif"><tspan x="1265.68" y="1317.50" textLength="59.40" lengthAdjust="spacingAndGlyphs">CABLE</tspan></text>
<text y="1317.50" font-size="20.05" font-family="'Liberation Sans', sans-serif"><tspan x="1452.79" y="1317.50" textLength="84.72" lengthAdjust="spacingAndGlyphs">UL20276</tspan> <tspan x="1548.05" y="1317.50" textLength="125.18" lengthAdjust="spacingAndGlyphs">DISPLAYPORT</tspan> <tspan x="1682.37" y="1317.50" textLength="59.34" lengthAdjust="spacingAndGlyphs">CABLE</tspan> <tspan x="1750.92" y="1317.50" textLength="147.23" lengthAdjust="spacingAndGlyphs">IMPEDANCE:100</tspan> <tspan x="1908.19" y="1317.50" textLength="43.33" lengthAdjust="spacingAndGlyphs">Ohm</tspan></text>
<text y="1354.50" font-size="23.69" font-family="'Liberation Sans', sans-serif"><tspan x="1211.25" y="1354.50" textLength="31.35" lengthAdjust="spacingAndGlyphs">NO.</tspan></text>
<text y="1354.50" font-size="23.69" font-family="'Liberation Sans', sans-serif"><tspan x="1256.81" y="1354.50" textLength="45.30" lengthAdjust="spacingAndGlyphs">PART</tspan> <tspan x="1310.86" y="1354.50" textLength="49.17" lengthAdjust="spacingAndGlyphs">NAME</tspan></text>
<text y="1354.50" font-size="23.69" font-family="'Liberation Sans', sans-serif"><tspan x="1451.93" y="1354.50" textLength="46.51" lengthAdjust="spacingAndGlyphs">SPEC</tspan> <tspan x="1507.88" y="1354.50" textLength="114.78" lengthAdjust="spacingAndGlyphs">DESCRIPTION</tspan></text>
<text y="1354.50" font-size="23.69" font-family="'Liberation Sans', sans-serif"><tspan x="2033.05" y="1354.50" textLength="69.46" lengthAdjust="spacingAndGlyphs">REMAKE</tspan></text>
<text x="1210.60" y="1380.40" font-size="16.2" font-family="'DejaVu Sans Mono', monospace" textLength="91.50" lengthAdjust="spacingAndGlyphs" stroke="#000" stroke-width="0.25">INNERMOLD</text>
<text x="1210.60" y="1504.10" font-size="16.2" font-family="'DejaVu Sans Mono', monospace" textLength="87.50" lengthAdjust="spacingAndGlyphs" stroke="#000" stroke-width="0.25">OVERMOLD</text>
<text x="1476.80" y="1378.50" font-size="16.2" font-family="'DejaVu Sans Mono', monospace" word-spacing="1.10" textLength="215.30" lengthAdjust="spacingAndGlyphs" stroke="#000" stroke-width="0.25">TOLERANCE UNSPECIFIED</text>
<text x="1476.10" y="1480.10" font-size="16.2" font-family="'DejaVu Sans Mono', monospace" textLength="51.80" lengthAdjust="spacingAndGlyphs" stroke="#000" stroke-width="0.25">ANGLE</text>
<text x="1476.10" y="1510.70" font-size="16.2" font-family="'DejaVu Sans Mono', monospace" textLength="58.80" lengthAdjust="spacingAndGlyphs" stroke="#000" stroke-width="0.25">DRAWN:</text>
<text x="1476.10" y="1547.80" font-size="16.2" font-family="'DejaVu Sans Mono', monospace" textLength="82.90" lengthAdjust="spacingAndGlyphs" stroke="#000" stroke-width="0.25">DESIGNER:</text>
<text x="1476.10" y="1585.40" font-size="16.2" font-family="'DejaVu Sans Mono', monospace" textLength="76.60" lengthAdjust="spacingAndGlyphs" stroke="#000" stroke-width="0.25">CHECKED:</text>
<text x="1476.10" y="1622.80" font-size="16.2" font-family="'DejaVu Sans Mono', monospace" textLength="91.50" lengthAdjust="spacingAndGlyphs" stroke="#000" stroke-width="0.25">APPROVED:</text>
<text x="1584.70" y="1397.90" font-size="16.2" font-family="'Liberation Sans', sans-serif" textLength="9.50" lengthAdjust="spacingAndGlyphs">±</text>
<text x="1584.70" y="1417.70" font-size="16.2" font-family="'Liberation Sans', sans-serif" textLength="9.50" lengthAdjust="spacingAndGlyphs">±</text>
<text x="1584.70" y="1438.30" font-size="16.2" font-family="'Liberation Sans', sans-serif" textLength="9.50" lengthAdjust="spacingAndGlyphs">±</text>
<text x="1584.70" y="1458.60" font-size="16.2" font-family="'Liberation Sans', sans-serif" textLength="9.50" lengthAdjust="spacingAndGlyphs">±</text>
<text x="1584.70" y="1478.40" font-size="16.2" font-family="'Liberation Sans', sans-serif" textLength="9.50" lengthAdjust="spacingAndGlyphs">±</text>
<text x="1606.90" y="1419.40" font-size="17" font-family="'Liberation Sans', sans-serif" textLength="17.90" lengthAdjust="spacingAndGlyphs">0.1</text>
<text x="1606.90" y="1439.90" font-size="17" font-family="'Liberation Sans', sans-serif" textLength="32.00" lengthAdjust="spacingAndGlyphs">0.38</text>
<text x="1744.30" y="1403.80" font-size="27.5" font-family="'Liberation Mono', monospace" word-spacing="1.92" textLength="332.90" lengthAdjust="spacingAndGlyphs">BossConn Electronics</text>
<text x="1860.80" y="1445.50" font-size="16.2" font-family="'DejaVu Sans Mono', monospace" textLength="52.20" lengthAdjust="spacingAndGlyphs" stroke="#000" stroke-width="0.25">SCALE</text>
<text x="2036.80" y="1445.50" font-size="16.2" font-family="'DejaVu Sans Mono', monospace" textLength="37.60" lengthAdjust="spacingAndGlyphs" stroke="#000" stroke-width="0.25">UNIT</text>
<text y="1472.10" font-size="27.91" font-family="'Liberation Sans', sans-serif"><tspan x="1933.93" y="1472.10" textLength="58.93" lengthAdjust="spacingAndGlyphs">NON</tspan></text>
<text x="2078.40" y="1472.10" font-size="23" font-family="'Liberation Mono', monospace" textLength="28.80" lengthAdjust="spacingAndGlyphs">mm</text>
<text x="1706.80" y="1503.30" font-size="16.2" font-family="'DejaVu Sans Mono', monospace" textLength="41.70" lengthAdjust="spacingAndGlyphs" stroke="#000" stroke-width="0.25">NAME</text>
<text x="2088.90" y="1504.40" font-size="16.2" font-family="'DejaVu Sans Mono', monospace" textLength="46.80" lengthAdjust="spacingAndGlyphs" stroke="#000" stroke-width="0.25">SHEET</text>
<text x="1706.80" y="1610.40" font-size="16.2" font-family="'DejaVu Sans Mono', monospace" word-spacing="1.10" textLength="109.50" lengthAdjust="spacingAndGlyphs" stroke="#000" stroke-width="0.25">DRAWING NO.</text>
<text x="2088.90" y="1610.40" font-size="16.2" font-family="'DejaVu Sans Mono', monospace" textLength="33.90" lengthAdjust="spacingAndGlyphs" stroke="#000" stroke-width="0.25">REV</text>
<text y="1633.80" font-size="20.06" font-family="'Liberation Sans', sans-serif"><tspan x="2106.84" y="1633.80" textLength="27.01" lengthAdjust="spacingAndGlyphs">0.1</tspan></text>
<text y="1554.30" font-size="26.16" font-family="'Liberation Sans', sans-serif"><tspan x="2091.81" y="1554.30" textLength="41.87" lengthAdjust="spacingAndGlyphs">1/1</tspan></text>
<text y="1534.40" font-size="20.88" font-family="'Liberation Sans', sans-serif"><tspan x="1787.51" y="1534.40" textLength="42.26" lengthAdjust="spacingAndGlyphs">Mini</tspan> <tspan x="1841.05" y="1534.40" textLength="29.60" lengthAdjust="spacingAndGlyphs">DP</tspan> <tspan x="1882.28" y="1534.40" textLength="21.81" lengthAdjust="spacingAndGlyphs">to</tspan> <tspan x="1915.86" y="1534.40" textLength="53.12" lengthAdjust="spacingAndGlyphs">HDMI</tspan> <tspan x="1980.18" y="1534.40" textLength="13.27" lengthAdjust="spacingAndGlyphs">A</tspan></text>
<text y="1557.50" font-size="20.88" font-family="'Liberation Sans', sans-serif"><tspan x="1788.89" y="1557.50" textLength="58.16" lengthAdjust="spacingAndGlyphs">Ttype</tspan> <tspan x="1858.86" y="1557.50" textLength="57.82" lengthAdjust="spacingAndGlyphs">PLUG</tspan> <tspan x="1927.93" y="1557.50" textLength="58.00" lengthAdjust="spacingAndGlyphs">cable</tspan></text>
<text y="367.80" font-size="21.65" font-family="'Liberation Sans', sans-serif"><tspan x="1368.24" y="367.80" textLength="95.57" lengthAdjust="spacingAndGlyphs">Features:</tspan></text>
<text y="392.20" font-size="21.65" font-family="'Liberation Sans', sans-serif"><tspan x="1368.91" y="392.20" textLength="5.60" lengthAdjust="spacingAndGlyphs">.</tspan> <tspan x="1389.95" y="392.20" textLength="88.97" lengthAdjust="spacingAndGlyphs">Converts</tspan> <tspan x="1494.51" y="392.20" textLength="30.94" lengthAdjust="spacingAndGlyphs">low</tspan><tspan x="1522.62" y="392.20" textLength="26.00" lengthAdjust="spacingAndGlyphs">-</tspan><tspan x="1545.31" y="392.20" textLength="56.06" lengthAdjust="spacingAndGlyphs">swing</tspan> <tspan x="1615.71" y="392.20" textLength="25.74" lengthAdjust="spacingAndGlyphs">AC</tspan> <tspan x="1656.91" y="392.20" textLength="78.87" lengthAdjust="spacingAndGlyphs">coupled</tspan> <tspan x="1751.11" y="392.20" textLength="109.43" lengthAdjust="spacingAndGlyphs">differential</tspan> <tspan x="1875.14" y="392.20" textLength="51.16" lengthAdjust="spacingAndGlyphs">input</tspan></text>
<text y="416.10" font-size="21.65" font-family="'Liberation Sans', sans-serif"><tspan x="1399.83" y="416.10" textLength="20.46" lengthAdjust="spacingAndGlyphs">to</tspan> <tspan x="1435.44" y="416.10" textLength="49.49" lengthAdjust="spacingAndGlyphs">HDMI</tspan> <tspan x="1500.13" y="416.10" textLength="30.50" lengthAdjust="spacingAndGlyphs">rev</tspan> <tspan x="1546.30" y="416.10" textLength="30.62" lengthAdjust="spacingAndGlyphs">1.3</tspan> <tspan x="1592.07" y="416.10" textLength="100.06" lengthAdjust="spacingAndGlyphs">compliant</tspan> <tspan x="1707.49" y="416.10" textLength="49.15" lengthAdjust="spacingAndGlyphs">open</tspan><tspan x="1752.97" y="416.10" textLength="26.00" lengthAdjust="spacingAndGlyphs">-</tspan><tspan x="1775.30" y="416.10" textLength="51.23" lengthAdjust="spacingAndGlyphs">drain</tspan> <tspan x="1841.80" y="416.10" textLength="73.68" lengthAdjust="spacingAndGlyphs">current</tspan></text>
<text y="439.60" font-size="21.65" font-family="'Liberation Sans', sans-serif"><tspan x="1399.56" y="439.60" textLength="81.90" lengthAdjust="spacingAndGlyphs">steering</tspan> <tspan x="1496.12" y="439.60" textLength="24.20" lengthAdjust="spacingAndGlyphs">Rx</tspan> <tspan x="1536.20" y="439.60" textLength="110.67" lengthAdjust="spacingAndGlyphs">terminated</tspan> <tspan x="1662.15" y="439.60" textLength="109.43" lengthAdjust="spacingAndGlyphs">differential</tspan> <tspan x="1786.75" y="439.60" textLength="73.05" lengthAdjust="spacingAndGlyphs">output.</tspan></text>
<text y="462.30" font-size="21.65" font-family="'Liberation Sans', sans-serif"><tspan x="1368.91" y="462.30" textLength="5.60" lengthAdjust="spacingAndGlyphs">.</tspan> <tspan x="1389.93" y="462.30" textLength="102.21" lengthAdjust="spacingAndGlyphs">Compliant</tspan> <tspan x="1507.41" y="462.30" textLength="20.46" lengthAdjust="spacingAndGlyphs">to</tspan> <tspan x="1542.55" y="462.30" textLength="50.19" lengthAdjust="spacingAndGlyphs">VESA</tspan> <tspan x="1607.03" y="462.30" textLength="71.65" lengthAdjust="spacingAndGlyphs">Interop</tspan> <tspan x="1693.73" y="462.30" textLength="97.38" lengthAdjust="spacingAndGlyphs">Guidlines.</tspan></text>
<text y="486.20" font-size="21.65" font-family="'Liberation Sans', sans-serif"><tspan x="1368.91" y="486.20" textLength="5.60" lengthAdjust="spacingAndGlyphs">.</tspan> <tspan x="1390.16" y="486.20" textLength="49.49" lengthAdjust="spacingAndGlyphs">HDMI</tspan> <tspan x="1454.85" y="486.20" textLength="44.40" lengthAdjust="spacingAndGlyphs">level</tspan> <tspan x="1514.90" y="486.20" textLength="75.37" lengthAdjust="spacingAndGlyphs">shifting</tspan> <tspan x="1604.88" y="486.20" textLength="96.11" lengthAdjust="spacingAndGlyphs">operation</tspan> <tspan x="1716.47" y="486.20" textLength="24.74" lengthAdjust="spacingAndGlyphs">up</tspan> <tspan x="1756.36" y="486.20" textLength="20.46" lengthAdjust="spacingAndGlyphs">to</tspan> <tspan x="1791.80" y="486.20" textLength="82.99" lengthAdjust="spacingAndGlyphs">2.5Gbps</tspan> <tspan x="1890.28" y="486.20" textLength="33.45" lengthAdjust="spacingAndGlyphs">per</tspan></text>
<text y="511.80" font-size="21.65" font-family="'Liberation Sans', sans-serif"><tspan x="1384.31" y="511.80" textLength="132.55" lengthAdjust="spacingAndGlyphs">lane(250MHz</tspan> <tspan x="1532.08" y="511.80" textLength="45.74" lengthAdjust="spacingAndGlyphs">pixel</tspan> <tspan x="1593.09" y="511.80" textLength="69.10" lengthAdjust="spacingAndGlyphs">clock).</tspan></text>
<text y="535.70" font-size="21.65" font-family="'Liberation Sans', sans-serif"><tspan x="1368.91" y="535.70" textLength="5.60" lengthAdjust="spacingAndGlyphs">.</tspan> <tspan x="1389.63" y="535.70" textLength="103.84" lengthAdjust="spacingAndGlyphs">Integrated</tspan> <tspan x="1508.81" y="535.70" textLength="26.20" lengthAdjust="spacingAndGlyphs">50</tspan><tspan x="1531.20" y="535.70" textLength="26.00" lengthAdjust="spacingAndGlyphs">-</tspan><tspan x="1553.54" y="535.70" textLength="44.64" lengthAdjust="spacingAndGlyphs">ohm</tspan> <tspan x="1613.42" y="535.70" textLength="116.65" lengthAdjust="spacingAndGlyphs">termination</tspan> <tspan x="1745.42" y="535.70" textLength="88.10" lengthAdjust="spacingAndGlyphs">resistors</tspan> <tspan x="1848.77" y="535.70" textLength="29.72" lengthAdjust="spacingAndGlyphs">for</tspan> <tspan x="1892.52" y="535.70" textLength="25.74" lengthAdjust="spacingAndGlyphs">AC</tspan><tspan x="1914.66" y="535.70" textLength="26.00" lengthAdjust="spacingAndGlyphs">-</tspan></text>
<text y="558.40" font-size="21.65" font-family="'Liberation Sans', sans-serif"><tspan x="1384.85" y="558.40" textLength="78.87" lengthAdjust="spacingAndGlyphs">coupled</tspan> <tspan x="1479.05" y="558.40" textLength="109.43" lengthAdjust="spacingAndGlyphs">differential</tspan> <tspan x="1603.07" y="558.40" textLength="69.65" lengthAdjust="spacingAndGlyphs">inputs.</tspan></text>
<text y="585.20" font-size="21.65" font-family="'Liberation Sans', sans-serif"><tspan x="1368.91" y="585.20" textLength="5.60" lengthAdjust="spacingAndGlyphs">.</tspan> <tspan x="1389.86" y="585.20" textLength="154.62" lengthAdjust="spacingAndGlyphs">Enable/Disable</tspan> <tspan x="1559.59" y="585.20" textLength="73.23" lengthAdjust="spacingAndGlyphs">feature</tspan> <tspan x="1647.86" y="585.20" textLength="20.46" lengthAdjust="spacingAndGlyphs">to</tspan> <tspan x="1683.37" y="585.20" textLength="41.45" lengthAdjust="spacingAndGlyphs">turn</tspan> <tspan x="1739.96" y="585.20" textLength="28.01" lengthAdjust="spacingAndGlyphs">off</tspan> <tspan x="1782.71" y="585.20" textLength="54.02" lengthAdjust="spacingAndGlyphs">TMDS</tspan> <tspan x="1851.97" y="585.20" textLength="76.99" lengthAdjust="spacingAndGlyphs">outputs</tspan> <tspan x="1944.20" y="585.20" textLength="20.46" lengthAdjust="spacingAndGlyphs">to</tspan></text>
<text y="608.70" font-size="21.65" font-family="'Liberation Sans', sans-serif"><tspan x="1384.82" y="608.70" textLength="53.42" lengthAdjust="spacingAndGlyphs">enter</tspan> <tspan x="1452.93" y="608.70" textLength="30.94" lengthAdjust="spacingAndGlyphs">low</tspan> <tspan x="1500.28" y="608.70" textLength="60.44" lengthAdjust="spacingAndGlyphs">power</tspan> <tspan x="1575.48" y="608.70" textLength="58.19" lengthAdjust="spacingAndGlyphs">state.</tspan></text>
<text y="631.80" font-size="21.65" font-family="'Liberation Sans', sans-serif"><tspan x="1368.91" y="631.80" textLength="5.60" lengthAdjust="spacingAndGlyphs">.</tspan> <tspan x="1389.90" y="631.80" textLength="5.60" lengthAdjust="spacingAndGlyphs">I</tspan> <tspan x="1410.47" y="631.80" textLength="13.46" lengthAdjust="spacingAndGlyphs">C</tspan> <tspan x="1439.43" y="631.80" textLength="61.92" lengthAdjust="spacingAndGlyphs">buffer</tspan> <tspan x="1515.74" y="631.80" textLength="29.72" lengthAdjust="spacingAndGlyphs">for</tspan> <tspan x="1559.48" y="631.80" textLength="36.29" lengthAdjust="spacingAndGlyphs">ATC</tspan> <tspan x="1611.29" y="631.80" textLength="41.14" lengthAdjust="spacingAndGlyphs">DDC</tspan> <tspan x="1667.74" y="631.80" textLength="38.85" lengthAdjust="spacingAndGlyphs">Cap</tspan> <tspan x="1721.78" y="631.80" textLength="38.72" lengthAdjust="spacingAndGlyphs">test</tspan> <tspan x="1776.14" y="631.80" textLength="84.54" lengthAdjust="spacingAndGlyphs">support.</tspan></text>
<text y="655.70" font-size="21.65" font-family="'Liberation Sans', sans-serif"><tspan x="1368.91" y="655.70" textLength="5.60" lengthAdjust="spacingAndGlyphs">.</tspan> <tspan x="1389.27" y="655.70" textLength="122.01" lengthAdjust="spacingAndGlyphs">Transparent</tspan> <tspan x="1526.61" y="655.70" textLength="127.92" lengthAdjust="spacingAndGlyphs">operation:no</tspan> <tspan x="1669.82" y="655.70" textLength="20.25" lengthAdjust="spacingAndGlyphs">re</tspan><tspan x="1686.17" y="655.70" textLength="26.00" lengthAdjust="spacingAndGlyphs">-</tspan><tspan x="1708.45" y="655.70" textLength="63.85" lengthAdjust="spacingAndGlyphs">timing</tspan> <tspan x="1786.85" y="655.70" textLength="21.80" lengthAdjust="spacingAndGlyphs">or</tspan> <tspan x="1823.06" y="655.70" textLength="134.44" lengthAdjust="spacingAndGlyphs">configuration</tspan></text>
<text y="678.40" font-size="21.65" font-family="'Liberation Sans', sans-serif"><tspan x="1384.28" y="678.40" textLength="90.64" lengthAdjust="spacingAndGlyphs">required.</tspan></text>
<text y="702.30" font-size="21.65" font-family="'Liberation Sans', sans-serif"><tspan x="1368.91" y="702.30" textLength="5.60" lengthAdjust="spacingAndGlyphs">.</tspan> <tspan x="1390.01" y="702.30" textLength="50.60" lengthAdjust="spacingAndGlyphs">Level</tspan> <tspan x="1456.28" y="702.30" textLength="65.66" lengthAdjust="spacingAndGlyphs">shifter</tspan> <tspan x="1536.33" y="702.30" textLength="29.72" lengthAdjust="spacingAndGlyphs">for</tspan> <tspan x="1580.46" y="702.30" textLength="42.12" lengthAdjust="spacingAndGlyphs">HPD</tspan> <tspan x="1638.10" y="702.30" textLength="58.29" lengthAdjust="spacingAndGlyphs">single</tspan> <tspan x="1711.51" y="702.30" textLength="48.73" lengthAdjust="spacingAndGlyphs">from</tspan> <tspan x="1775.47" y="702.30" textLength="49.49" lengthAdjust="spacingAndGlyphs">HDMI</tspan> <tspan x="1839.96" y="702.30" textLength="109.29" lengthAdjust="spacingAndGlyphs">connector.</tspan></text>
<text y="725.80" font-size="21.65" font-family="'Liberation Sans', sans-serif"><tspan x="1368.91" y="725.80" textLength="5.60" lengthAdjust="spacingAndGlyphs">.</tspan> <tspan x="1389.63" y="725.80" textLength="103.84" lengthAdjust="spacingAndGlyphs">Integrated</tspan> <tspan x="1508.97" y="725.80" textLength="35.23" lengthAdjust="spacingAndGlyphs">pull</tspan><tspan x="1540.44" y="725.80" textLength="26.00" lengthAdjust="spacingAndGlyphs">-</tspan><tspan x="1562.84" y="725.80" textLength="51.74" lengthAdjust="spacingAndGlyphs">down</tspan> <tspan x="1630.00" y="725.80" textLength="24.74" lengthAdjust="spacingAndGlyphs">on</tspan> <tspan x="1669.90" y="725.80" textLength="98.74" lengthAdjust="spacingAndGlyphs">HPD_sink</tspan> <tspan x="1784.19" y="725.80" textLength="51.16" lengthAdjust="spacingAndGlyphs">input</tspan></text>
<text y="751.40" font-size="21.65" font-family="'Liberation Sans', sans-serif"><tspan x="1384.83" y="751.40" textLength="123.96" lengthAdjust="spacingAndGlyphs">guarantees&quot;</tspan> <tspan x="1524.01" y="751.40" textLength="51.16" lengthAdjust="spacingAndGlyphs">input</tspan> <tspan x="1590.63" y="751.40" textLength="93.92" lengthAdjust="spacingAndGlyphs">low&quot;when</tspan> <tspan x="1700.07" y="751.40" textLength="24.77" lengthAdjust="spacingAndGlyphs">no</tspan> <tspan x="1740.07" y="751.40" textLength="69.54" lengthAdjust="spacingAndGlyphs">display</tspan> <tspan x="1824.46" y="751.40" textLength="16.84" lengthAdjust="spacingAndGlyphs">is</tspan> <tspan x="1856.80" y="751.40" textLength="79.34" lengthAdjust="spacingAndGlyphs">plugged</tspan> <tspan x="1950.86" y="751.40" textLength="25.51" lengthAdjust="spacingAndGlyphs">in.</tspan></text>
<text y="775.30" font-size="21.65" font-family="'Liberation Sans', sans-serif"><tspan x="1368.91" y="775.30" textLength="5.60" lengthAdjust="spacingAndGlyphs">.</tspan><tspan x="1380.30" y="775.30" textLength="90.86" lengthAdjust="spacingAndGlyphs">Supports</tspan> <tspan x="1486.72" y="775.30" textLength="62.99" lengthAdjust="spacingAndGlyphs">1080p</tspan> <tspan x="1565.39" y="775.30" textLength="51.65" lengthAdjust="spacingAndGlyphs">60Hz</tspan> <tspan x="1632.72" y="775.30" textLength="19.54" lengthAdjust="spacingAndGlyphs">at</tspan> <tspan x="1667.59" y="775.30" textLength="85.72" lengthAdjust="spacingAndGlyphs">distance</tspan> <tspan x="1768.61" y="775.30" textLength="24.74" lengthAdjust="spacingAndGlyphs">up</tspan> <tspan x="1808.50" y="775.30" textLength="20.46" lengthAdjust="spacingAndGlyphs">to</tspan> <tspan x="1844.15" y="775.30" textLength="84.14" lengthAdjust="spacingAndGlyphs">3meters</tspan></text>
<text y="800.90" font-size="21.65" font-family="'Liberation Sans', sans-serif"><tspan x="1381.05" y="800.90" textLength="71.53" lengthAdjust="spacingAndGlyphs">(length</tspan> <tspan x="1467.81" y="800.90" textLength="29.72" lengthAdjust="spacingAndGlyphs">for</tspan> <tspan x="1512.06" y="800.90" textLength="51.73" lengthAdjust="spacingAndGlyphs">use).</tspan></text>
<text y="870.20" font-size="19.23" font-family="'Liberation Sans', sans-serif"><tspan x="1345.65" y="870.20" textLength="86.68" lengthAdjust="spacingAndGlyphs">Electrical</tspan> <tspan x="1442.41" y="870.20" textLength="98.11" lengthAdjust="spacingAndGlyphs">character:</tspan></text>
<text y="891.70" font-size="19.23" font-family="'Liberation Sans', sans-serif"><tspan x="1346.52" y="891.70" textLength="17.38" lengthAdjust="spacingAndGlyphs">a.</tspan> <tspan x="1373.34" y="891.70" textLength="81.07" lengthAdjust="spacingAndGlyphs">Function</tspan> <tspan x="1463.80" y="891.70" textLength="45.85" lengthAdjust="spacingAndGlyphs">Test:</tspan> <tspan x="1519.57" y="891.70" textLength="20.84" lengthAdjust="spacingAndGlyphs">by</tspan> <tspan x="1550.69" y="891.70" textLength="25.42" lengthAdjust="spacingAndGlyphs">PC</tspan> <tspan x="1587.01" y="891.70" textLength="34.00" lengthAdjust="spacingAndGlyphs">and</tspan> <tspan x="1631.29" y="891.70" textLength="74.25" lengthAdjust="spacingAndGlyphs">monitor</tspan> <tspan x="1715.13" y="891.70" textLength="60.04" lengthAdjust="spacingAndGlyphs">1080P</tspan> <tspan x="1785.46" y="891.70" textLength="48.06" lengthAdjust="spacingAndGlyphs">60Hz</tspan> <tspan x="1843.37" y="891.70" textLength="36.01" lengthAdjust="spacingAndGlyphs">test</tspan> <tspan x="1889.71" y="891.70" textLength="50.48" lengthAdjust="spacingAndGlyphs">pass.</tspan></text>
<text y="489.70" font-size="16.33" font-family="'DejaVu Sans Light', 'DejaVu Sans', sans-serif" stroke="#000" stroke-width="0.3"><tspan x="117.18" y="489.70" textLength="42.61" lengthAdjust="spacingAndGlyphs">Pin2</tspan></text>
<text y="493.10" font-size="16.33" font-family="'DejaVu Sans Light', 'DejaVu Sans', sans-serif" stroke="#000" stroke-width="0.3"><tspan x="239.32" y="493.10" textLength="38.51" lengthAdjust="spacingAndGlyphs">Pin1</tspan></text>
<text y="525.90" font-size="16.33" font-family="'DejaVu Sans Light', 'DejaVu Sans', sans-serif" stroke="#000" stroke-width="0.3"><tspan x="116.21" y="525.90" textLength="54.61" lengthAdjust="spacingAndGlyphs">Pin20</tspan></text>
<text y="526.80" font-size="16.33" font-family="'DejaVu Sans Light', 'DejaVu Sans', sans-serif" stroke="#000" stroke-width="0.3"><tspan x="238.20" y="526.80" textLength="52.52" lengthAdjust="spacingAndGlyphs">Pin19</tspan></text>
<text y="489.70" font-size="21.88" font-family="'DejaVu Sans Light', 'DejaVu Sans', sans-serif" stroke="#000" stroke-width="0.3"><tspan x="1124.75" y="489.70" textLength="26.04" lengthAdjust="spacingAndGlyphs">19</tspan></text>
<text y="490.90" font-size="22.07" font-family="'DejaVu Sans Light', 'DejaVu Sans', sans-serif" stroke="#000" stroke-width="0.3"><tspan x="1245.71" y="490.90" textLength="26.44" lengthAdjust="spacingAndGlyphs">18</tspan></text>
<text y="532.80" font-size="21.91" font-family="'DejaVu Sans Light', 'DejaVu Sans', sans-serif" stroke="#000" stroke-width="0.3"><tspan x="1135.77" y="532.80" textLength="13.07" lengthAdjust="spacingAndGlyphs">1</tspan></text>
<text y="531.80" font-size="20.71" font-family="'DejaVu Sans Light', 'DejaVu Sans', sans-serif" stroke="#000" stroke-width="0.3"><tspan x="1253.46" y="531.80" textLength="14.17" lengthAdjust="spacingAndGlyphs">2</tspan></text>
<text y="366.20" font-size="19.20" font-family="'DejaVu Sans Light', 'DejaVu Sans', sans-serif" stroke="#000" stroke-width="0.3"><tspan x="634.14" y="366.20" textLength="47.70" lengthAdjust="spacingAndGlyphs">1830</tspan><tspan x="680.58" y="366.20" textLength="17.81" lengthAdjust="spacingAndGlyphs">±</tspan><tspan x="697.51" y="366.20" textLength="37.51" lengthAdjust="spacingAndGlyphs">200</tspan></text>
<text y="387.60" font-size="17.28" font-family="'DejaVu Sans Light', 'DejaVu Sans', sans-serif" stroke="#000" stroke-width="0.3"><tspan x="874.07" y="387.60" textLength="42.28" lengthAdjust="spacingAndGlyphs">46.0</tspan></text>
<text y="593.30" font-size="21.52" font-family="'DejaVu Sans Light', 'DejaVu Sans', sans-serif" stroke="#000" stroke-width="0.3"><tspan x="1075.98" y="593.30" textLength="94.99" lengthAdjust="spacingAndGlyphs">9.0(Min)</tspan></text>
<text y="570.80" font-size="18.66" font-family="'DejaVu Sans Light', 'DejaVu Sans', sans-serif" stroke="#000" stroke-width="0.3"><tspan x="357.73" y="570.80" textLength="39.17" lengthAdjust="spacingAndGlyphs">MINI</tspan> <tspan x="406.16" y="570.80" textLength="25.90" lengthAdjust="spacingAndGlyphs">DP</tspan> <tspan x="441.69" y="570.80" textLength="50.72" lengthAdjust="spacingAndGlyphs">PLUG</tspan></text>
<text y="612.00" font-size="18.66" font-family="'DejaVu Sans Light', 'DejaVu Sans', sans-serif" stroke="#000" stroke-width="0.3"><tspan x="788.25" y="612.00" textLength="47.67" lengthAdjust="spacingAndGlyphs">HDMI</tspan> <tspan x="845.57" y="612.00" textLength="48.03" lengthAdjust="spacingAndGlyphs">TYPE</tspan> <tspan x="902.33" y="612.00" textLength="12.24" lengthAdjust="spacingAndGlyphs">A</tspan> <tspan x="923.86" y="612.00" textLength="52.22" lengthAdjust="spacingAndGlyphs">PLUG</tspan></text>
<use href="#t-rohs" transform="translate(1.5,1.5)"/>
<text x="72.60" y="280.60" font-size="50.0" font-family="'Liberation Serif', serif" font-weight="bold" font-style="italic" fill="#fff" word-spacing="1.00" textLength="356.00" lengthAdjust="spacingAndGlyphs" id="t-rohs" stroke="#000" stroke-width="1.55">RoHS Compliant</text>
<use href="#t-prelim" transform="translate(1.3,1.3)"/>
<text x="1088.60" y="826.00" font-size="38.0" font-family="'Liberation Serif', serif" font-weight="bold" font-style="italic" fill="#fff" textLength="200.40" lengthAdjust="spacingAndGlyphs" id="t-prelim" stroke="#000" stroke-width="1.45">Preliminary</text>
</svg>
</body>
</html>
